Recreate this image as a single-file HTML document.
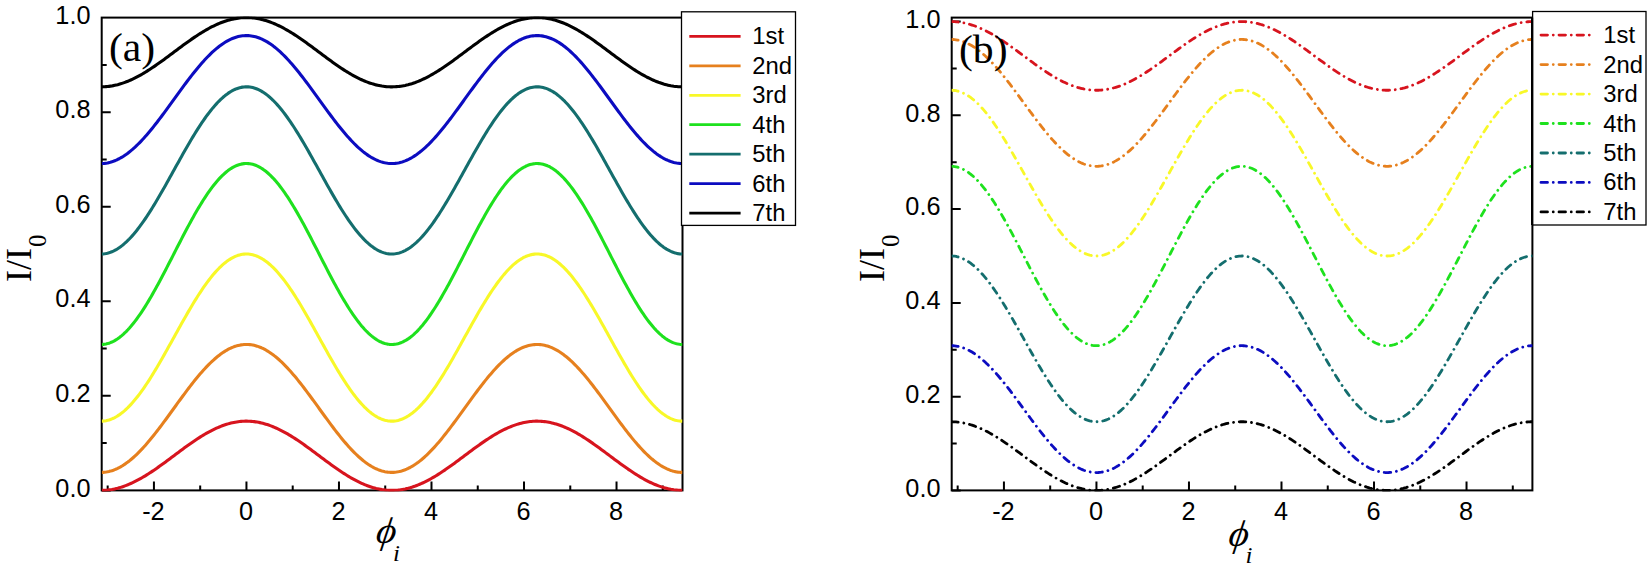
<!DOCTYPE html>
<html><head><meta charset="utf-8"><title>Figure</title>
<style>html,body{margin:0;padding:0;background:#fff}svg{display:block}</style></head>
<body>
<svg width="1650" height="569" viewBox="0 0 1650 569">
<rect width="1650" height="569" fill="#fff"/>
<defs><clipPath id="clipa"><rect x="101.7" y="16.6" width="580.8" height="474.99999999999994"/></clipPath></defs>
<rect x="101.7" y="17.6" width="580.8" height="472.79999999999995" fill="none" stroke="#000" stroke-width="2.0"/>
<path d="M107.67 490.4v-5 M153.93 490.4v-9 M200.19 490.4v-5 M246.45 490.4v-9 M292.71 490.4v-5 M338.97 490.4v-9 M385.23 490.4v-5 M431.49 490.4v-9 M477.75 490.4v-5 M524.01 490.4v-9 M570.27 490.4v-5 M616.53 490.4v-9 M662.79 490.4v-5 M101.7 490.40h9 M101.7 443.12h5 M101.7 395.84h9 M101.7 348.56h5 M101.7 301.28h9 M101.7 254.00h5 M101.7 206.72h9 M101.7 159.44h5 M101.7 112.16h9 M101.7 64.88h5" stroke="#000" stroke-width="2" fill="none"/>
<g clip-path="url(#clipa)" fill="none" stroke-width="3.1" stroke-linejoin="round">
<polyline stroke="#d7141e" points="101.70,490.40 103.15,490.37 104.60,490.30 106.06,490.20 107.51,490.07 108.96,489.90 110.41,489.70 111.86,489.47 113.32,489.20 114.77,488.90 116.22,488.57 117.67,488.21 119.12,487.81 120.58,487.38 122.03,486.92 123.48,486.43 124.93,485.91 126.38,485.36 127.84,484.79 129.29,484.18 130.74,483.54 132.19,482.88 133.64,482.19 135.10,481.47 136.55,480.73 138.00,479.97 139.45,479.18 140.90,478.37 142.36,477.53 143.81,476.68 145.26,475.80 146.71,474.90 148.16,473.99 149.62,473.06 151.07,472.11 152.52,471.14 153.97,470.16 155.42,469.16 156.88,468.15 158.33,467.13 159.78,466.10 161.23,465.06 162.68,464.01 164.14,462.95 165.59,461.88 167.04,460.81 168.49,459.73 169.94,458.65 171.40,457.57 172.85,456.48 174.30,455.39 175.75,454.31 177.20,453.22 178.66,452.14 180.11,451.06 181.56,449.99 183.01,448.92 184.46,447.86 185.92,446.81 187.37,445.76 188.82,444.73 190.27,443.70 191.72,442.69 193.18,441.69 194.63,440.70 196.08,439.73 197.53,438.78 198.98,437.84 200.44,436.92 201.89,436.02 203.34,435.14 204.79,434.27 206.24,433.43 207.70,432.61 209.15,431.82 210.60,431.05 212.05,430.30 213.50,429.58 214.96,428.88 216.41,428.21 217.86,427.56 219.31,426.95 220.76,426.36 222.22,425.80 223.67,425.27 225.12,424.78 226.57,424.31 228.02,423.87 229.48,423.46 230.93,423.09 232.38,422.75 233.83,422.44 235.28,422.16 236.74,421.92 238.19,421.71 239.64,421.53 241.09,421.39 242.54,421.28 244.00,421.21 245.45,421.17 246.90,421.16 248.35,421.19 249.80,421.25 251.26,421.35 252.71,421.48 254.16,421.64 255.61,421.84 257.06,422.07 258.52,422.33 259.97,422.63 261.42,422.96 262.87,423.32 264.32,423.71 265.78,424.14 267.23,424.59 268.68,425.08 270.13,425.60 271.58,426.15 273.04,426.72 274.49,427.33 275.94,427.96 277.39,428.62 278.84,429.31 280.30,430.02 281.75,430.76 283.20,431.52 284.65,432.31 286.10,433.12 287.56,433.95 289.01,434.81 290.46,435.68 291.91,436.58 293.36,437.49 294.82,438.42 296.27,439.37 297.72,440.33 299.17,441.31 300.62,442.31 302.08,443.31 303.53,444.33 304.98,445.37 306.43,446.41 307.88,447.46 309.34,448.52 310.79,449.58 312.24,450.65 313.69,451.73 315.14,452.81 316.60,453.90 318.05,454.98 319.50,456.07 320.95,457.15 322.40,458.24 323.86,459.32 325.31,460.40 326.76,461.48 328.21,462.54 329.66,463.61 331.12,464.66 332.57,465.71 334.02,466.74 335.47,467.77 336.92,468.78 338.38,469.78 339.83,470.77 341.28,471.74 342.73,472.70 344.18,473.64 345.64,474.56 347.09,475.46 348.54,476.35 349.99,477.21 351.44,478.05 352.90,478.87 354.35,479.67 355.80,480.45 357.25,481.20 358.70,481.92 360.16,482.62 361.61,483.29 363.06,483.94 364.51,484.56 365.96,485.15 367.42,485.71 368.87,486.24 370.32,486.74 371.77,487.21 373.22,487.65 374.68,488.06 376.13,488.44 377.58,488.78 379.03,489.09 380.48,489.37 381.94,489.62 383.39,489.83 384.84,490.01 386.29,490.16 387.74,490.27 389.20,490.35 390.65,490.39 392.10,490.40 393.55,490.37 395.00,490.32 396.46,490.22 397.91,490.10 399.36,489.94 400.81,489.74 402.26,489.51 403.72,489.25 405.17,488.96 406.62,488.63 408.07,488.28 409.52,487.88 410.98,487.46 412.43,487.01 413.88,486.52 415.33,486.01 416.78,485.46 418.24,484.89 419.69,484.29 421.14,483.66 422.59,483.00 424.04,482.32 425.50,481.60 426.95,480.87 428.40,480.11 429.85,479.32 431.30,478.51 432.76,477.68 434.21,476.83 435.66,475.96 437.11,475.07 438.56,474.15 440.02,473.22 441.47,472.28 442.92,471.31 444.37,470.34 445.82,469.34 447.28,468.34 448.73,467.32 450.18,466.29 451.63,465.25 453.08,464.20 454.54,463.14 455.99,462.07 457.44,461.00 458.89,459.93 460.34,458.85 461.80,457.76 463.25,456.68 464.70,455.59 466.15,454.50 467.60,453.42 469.06,452.34 470.51,451.26 471.96,450.18 473.41,449.11 474.86,448.05 476.32,446.99 477.77,445.95 479.22,444.91 480.67,443.88 482.12,442.87 483.58,441.87 485.03,440.88 486.48,439.91 487.93,438.95 489.38,438.01 490.84,437.08 492.29,436.18 493.74,435.29 495.19,434.43 496.64,433.58 498.10,432.76 499.55,431.96 501.00,431.18 502.45,430.43 503.90,429.70 505.36,429.00 506.81,428.33 508.26,427.68 509.71,427.06 511.16,426.46 512.62,425.90 514.07,425.37 515.52,424.86 516.97,424.39 518.42,423.95 519.88,423.53 521.33,423.16 522.78,422.81 524.23,422.49 525.68,422.21 527.14,421.96 528.59,421.75 530.04,421.56 531.49,421.42 532.94,421.30 534.40,421.22 535.85,421.17 537.30,421.16 538.75,421.18 540.20,421.24 541.66,421.33 543.11,421.45 544.56,421.61 546.01,421.80 547.46,422.02 548.92,422.28 550.37,422.57 551.82,422.90 553.27,423.25 554.72,423.64 556.18,424.06 557.63,424.51 559.08,424.99 560.53,425.50 561.98,426.05 563.44,426.62 564.89,427.22 566.34,427.84 567.79,428.50 569.24,429.18 570.70,429.89 572.15,430.62 573.60,431.38 575.05,432.17 576.50,432.97 577.96,433.80 579.41,434.65 580.86,435.52 582.31,436.41 583.76,437.32 585.22,438.25 586.67,439.20 588.12,440.16 589.57,441.14 591.02,442.13 592.48,443.13 593.93,444.15 595.38,445.18 596.83,446.22 598.28,447.27 599.74,448.33 601.19,449.39 602.64,450.46 604.09,451.54 605.54,452.62 607.00,453.70 608.45,454.79 609.90,455.87 611.35,456.96 612.80,458.05 614.26,459.13 615.71,460.21 617.16,461.28 618.61,462.35 620.06,463.42 621.52,464.47 622.97,465.52 624.42,466.56 625.87,467.58 627.32,468.60 628.78,469.60 630.23,470.59 631.68,471.57 633.13,472.53 634.58,473.47 636.04,474.39 637.49,475.30 638.94,476.19 640.39,477.06 641.84,477.90 643.30,478.73 644.75,479.53 646.20,480.31 647.65,481.06 649.10,481.79 650.56,482.50 652.01,483.18 653.46,483.83 654.91,484.45 656.36,485.04 657.82,485.61 659.27,486.15 660.72,486.65 662.17,487.13 663.62,487.58 665.08,487.99 666.53,488.37 667.98,488.72 669.43,489.04 670.88,489.33 672.34,489.58 673.79,489.80 675.24,489.98 676.69,490.13 678.14,490.25 679.60,490.33 681.05,490.38 682.50,490.40"/>
<polyline stroke="#e6801e" points="101.70,472.40 103.15,472.34 104.60,472.22 106.06,472.04 107.51,471.80 108.96,471.49 110.41,471.12 111.86,470.69 113.32,470.19 114.77,469.64 116.22,469.03 117.67,468.35 119.12,467.62 120.58,466.83 122.03,465.98 123.48,465.08 124.93,464.12 126.38,463.10 127.84,462.03 129.29,460.91 130.74,459.73 132.19,458.51 133.64,457.24 135.10,455.91 136.55,454.54 138.00,453.13 139.45,451.67 140.90,450.17 142.36,448.63 143.81,447.05 145.26,445.43 146.71,443.77 148.16,442.08 149.62,440.36 151.07,438.60 152.52,436.82 153.97,435.00 155.42,433.16 156.88,431.30 158.33,429.41 159.78,427.51 161.23,425.58 162.68,423.64 164.14,421.68 165.59,419.71 167.04,417.73 168.49,415.74 169.94,413.74 171.40,411.74 172.85,409.73 174.30,407.72 175.75,405.72 177.20,403.71 178.66,401.71 180.11,399.72 181.56,397.73 183.01,395.76 184.46,393.80 185.92,391.85 187.37,389.92 188.82,388.01 190.27,386.12 191.72,384.25 193.18,382.40 194.63,380.58 196.08,378.79 197.53,377.02 198.98,375.29 200.44,373.59 201.89,371.92 203.34,370.29 204.79,368.70 206.24,367.14 207.70,365.63 209.15,364.16 210.60,362.73 212.05,361.35 213.50,360.02 214.96,358.73 216.41,357.49 217.86,356.30 219.31,355.16 220.76,354.08 222.22,353.05 223.67,352.07 225.12,351.15 226.57,350.28 228.02,349.47 229.48,348.72 230.93,348.03 232.38,347.40 233.83,346.83 235.28,346.32 236.74,345.87 238.19,345.48 239.64,345.16 241.09,344.89 242.54,344.69 244.00,344.56 245.45,344.48 246.90,344.47 248.35,344.52 249.80,344.63 251.26,344.81 252.71,345.05 254.16,345.35 255.61,345.72 257.06,346.14 258.52,346.63 259.97,347.18 261.42,347.79 262.87,348.45 264.32,349.18 265.78,349.97 267.23,350.81 268.68,351.71 270.13,352.67 271.58,353.68 273.04,354.74 274.49,355.86 275.94,357.03 277.39,358.25 278.84,359.52 280.30,360.84 281.75,362.20 283.20,363.61 284.65,365.07 286.10,366.56 287.56,368.10 289.01,369.68 290.46,371.30 291.91,372.95 293.36,374.64 294.82,376.36 296.27,378.11 297.72,379.89 299.17,381.70 300.62,383.54 302.08,385.40 303.53,387.29 304.98,389.19 306.43,391.12 307.88,393.06 309.34,395.01 310.79,396.98 312.24,398.96 313.69,400.95 315.14,402.95 316.60,404.95 318.05,406.96 319.50,408.97 320.95,410.98 322.40,412.98 323.86,414.98 325.31,416.97 326.76,418.96 328.21,420.93 329.66,422.90 331.12,424.85 332.57,426.78 334.02,428.69 335.47,430.59 336.92,432.46 338.38,434.31 339.83,436.13 341.28,437.93 342.73,439.69 344.18,441.43 345.64,443.13 347.09,444.80 348.54,446.44 349.99,448.03 351.44,449.59 352.90,451.11 354.35,452.58 355.80,454.01 357.25,455.40 358.70,456.74 360.16,458.03 361.61,459.27 363.06,460.47 364.51,461.61 365.96,462.70 367.42,463.74 368.87,464.72 370.32,465.64 371.77,466.51 373.22,467.33 374.68,468.08 376.13,468.78 377.58,469.41 379.03,469.99 380.48,470.51 381.94,470.96 383.39,471.36 384.84,471.69 386.29,471.96 387.74,472.16 389.20,472.31 390.65,472.39 392.10,472.40 393.55,472.36 395.00,472.25 396.46,472.08 397.91,471.84 399.36,471.55 400.81,471.19 402.26,470.77 403.72,470.29 405.17,469.74 406.62,469.14 408.07,468.48 409.52,467.76 410.98,466.98 412.43,466.14 413.88,465.24 415.33,464.29 416.78,463.29 418.24,462.23 419.69,461.11 421.14,459.95 422.59,458.73 424.04,457.47 425.50,456.15 426.95,454.79 428.40,453.39 429.85,451.94 431.30,450.44 432.76,448.91 434.21,447.33 435.66,445.72 437.11,444.07 438.56,442.39 440.02,440.67 441.47,438.92 442.92,437.14 444.37,435.33 445.82,433.50 447.28,431.64 448.73,429.75 450.18,427.85 451.63,425.93 453.08,423.99 454.54,422.03 455.99,420.07 457.44,418.09 458.89,416.10 460.34,414.10 461.80,412.10 463.25,410.09 464.70,408.08 466.15,406.08 467.60,404.07 469.06,402.07 470.51,400.08 471.96,398.09 473.41,396.11 474.86,394.15 476.32,392.20 477.77,390.27 479.22,388.35 480.67,386.45 482.12,384.58 483.58,382.73 485.03,380.90 486.48,379.10 487.93,377.34 489.38,375.60 490.84,373.89 492.29,372.22 493.74,370.58 495.19,368.98 496.64,367.42 498.10,365.90 499.55,364.42 501.00,362.99 502.45,361.60 503.90,360.25 505.36,358.95 506.81,357.71 508.26,356.51 509.71,355.36 511.16,354.27 512.62,353.23 514.07,352.24 515.52,351.31 516.97,350.43 518.42,349.61 519.88,348.85 521.33,348.15 522.78,347.51 524.23,346.93 525.68,346.41 527.14,345.95 528.59,345.55 530.04,345.21 531.49,344.94 532.94,344.73 534.40,344.58 535.85,344.49 537.30,344.47 538.75,344.51 540.20,344.61 541.66,344.77 543.11,345.00 544.56,345.29 546.01,345.65 547.46,346.06 548.92,346.54 550.37,347.08 551.82,347.67 553.27,348.33 554.72,349.05 556.18,349.82 557.63,350.66 559.08,351.55 560.53,352.49 561.98,353.49 563.44,354.55 564.89,355.66 566.34,356.82 567.79,358.03 569.24,359.29 570.70,360.60 572.15,361.95 573.60,363.36 575.05,364.80 576.50,366.29 577.96,367.82 579.41,369.39 580.86,371.00 582.31,372.65 583.76,374.33 585.22,376.05 586.67,377.79 588.12,379.57 589.57,381.38 591.02,383.21 592.48,385.07 593.93,386.95 595.38,388.85 596.83,390.77 598.28,392.71 599.74,394.66 601.19,396.63 602.64,398.61 604.09,400.60 605.54,402.59 607.00,404.59 608.45,406.60 609.90,408.61 611.35,410.62 612.80,412.62 614.26,414.62 615.71,416.62 617.16,418.60 618.61,420.58 620.06,422.55 621.52,424.50 622.97,426.43 624.42,428.35 625.87,430.25 627.32,432.12 628.78,433.98 630.23,435.81 631.68,437.61 633.13,439.38 634.58,441.12 636.04,442.83 637.49,444.51 638.94,446.15 640.39,447.75 641.84,449.31 643.30,450.84 644.75,452.32 646.20,453.76 647.65,455.15 649.10,456.50 650.56,457.80 652.01,459.06 653.46,460.26 654.91,461.41 656.36,462.51 657.82,463.55 659.27,464.55 660.72,465.48 662.17,466.36 663.62,467.19 665.08,467.95 666.53,468.66 667.98,469.31 669.43,469.89 670.88,470.42 672.34,470.89 673.79,471.29 675.24,471.63 676.69,471.91 678.14,472.13 679.60,472.28 681.05,472.38 682.50,472.41"/>
<polyline stroke="#f8f828" points="101.70,421.15 103.15,421.08 104.60,420.92 106.06,420.68 107.51,420.36 108.96,419.96 110.41,419.48 111.86,418.92 113.32,418.27 114.77,417.55 116.22,416.75 117.67,415.87 119.12,414.91 120.58,413.88 122.03,412.77 123.48,411.59 124.93,410.33 126.38,409.00 127.84,407.60 129.29,406.14 130.74,404.60 132.19,403.00 133.64,401.34 135.10,399.61 136.55,397.82 138.00,395.98 139.45,394.07 140.90,392.11 142.36,390.10 143.81,388.03 145.26,385.91 146.71,383.75 148.16,381.54 149.62,379.29 151.07,376.99 152.52,374.66 153.97,372.29 155.42,369.89 156.88,367.45 158.33,364.99 159.78,362.50 161.23,359.98 162.68,357.44 164.14,354.89 165.59,352.31 167.04,349.72 168.49,347.12 169.94,344.51 171.40,341.89 172.85,339.27 174.30,336.65 175.75,334.03 177.20,331.41 178.66,328.80 180.11,326.19 181.56,323.60 183.01,321.02 184.46,318.46 185.92,315.91 187.37,313.39 188.82,310.89 190.27,308.42 191.72,305.97 193.18,303.56 194.63,301.18 196.08,298.84 197.53,296.53 198.98,294.27 200.44,292.05 201.89,289.87 203.34,287.74 204.79,285.66 206.24,283.63 207.70,281.65 209.15,279.73 210.60,277.87 212.05,276.06 213.50,274.32 214.96,272.63 216.41,271.01 217.86,269.46 219.31,267.97 220.76,266.56 222.22,265.21 223.67,263.93 225.12,262.73 226.57,261.60 228.02,260.54 229.48,259.56 230.93,258.66 232.38,257.84 233.83,257.09 235.28,256.42 236.74,255.84 238.19,255.33 239.64,254.90 241.09,254.56 242.54,254.30 244.00,254.12 245.45,254.02 246.90,254.00 248.35,254.07 249.80,254.22 251.26,254.45 252.71,254.76 254.16,255.16 255.61,255.63 257.06,256.19 258.52,256.83 259.97,257.54 261.42,258.34 262.87,259.21 264.32,260.16 265.78,261.19 267.23,262.29 268.68,263.47 270.13,264.72 271.58,266.04 273.04,267.43 274.49,268.89 275.94,270.42 277.39,272.01 278.84,273.67 280.30,275.39 281.75,277.17 283.20,279.02 284.65,280.92 286.10,282.87 287.56,284.88 289.01,286.94 290.46,289.06 291.91,291.22 293.36,293.42 294.82,295.67 296.27,297.96 297.72,300.29 299.17,302.65 300.62,305.05 302.08,307.49 303.53,309.95 304.98,312.44 306.43,314.95 307.88,317.49 309.34,320.04 310.79,322.62 312.24,325.20 313.69,327.80 315.14,330.41 316.60,333.03 318.05,335.65 319.50,338.28 320.95,340.90 322.40,343.52 323.86,346.13 325.31,348.74 326.76,351.33 328.21,353.91 329.66,356.47 331.12,359.02 332.57,361.54 334.02,364.05 335.47,366.52 336.92,368.97 338.38,371.38 339.83,373.77 341.28,376.11 342.73,378.42 344.18,380.69 345.64,382.91 347.09,385.10 348.54,387.23 349.99,389.32 351.44,391.35 352.90,393.33 354.35,395.26 355.80,397.13 357.25,398.94 358.70,400.69 360.16,402.38 361.61,404.00 363.06,405.56 364.51,407.06 365.96,408.48 367.42,409.83 368.87,411.12 370.32,412.33 371.77,413.46 373.22,414.53 374.68,415.51 376.13,416.42 377.58,417.25 379.03,418.01 380.48,418.68 381.94,419.27 383.39,419.79 384.84,420.22 386.29,420.57 387.74,420.84 389.20,421.03 390.65,421.14 392.10,421.16 393.55,421.10 395.00,420.96 396.46,420.73 397.91,420.43 399.36,420.04 400.81,419.57 402.26,419.02 403.72,418.39 405.17,417.68 406.62,416.90 408.07,416.03 409.52,415.09 410.98,414.07 412.43,412.97 413.88,411.80 415.33,410.56 416.78,409.25 418.24,407.86 419.69,406.41 421.14,404.88 422.59,403.30 424.04,401.64 425.50,399.93 426.95,398.15 428.40,396.31 429.85,394.42 431.30,392.47 432.76,390.46 434.21,388.40 435.66,386.30 437.11,384.14 438.56,381.94 440.02,379.69 441.47,377.41 442.92,375.08 444.37,372.72 445.82,370.32 447.28,367.89 448.73,365.43 450.18,362.95 451.63,360.44 453.08,357.90 454.54,355.35 455.99,352.77 457.44,350.19 458.89,347.59 460.34,344.98 461.80,342.36 463.25,339.74 464.70,337.12 466.15,334.50 467.60,331.88 469.06,329.26 470.51,326.66 471.96,324.06 473.41,321.48 474.86,318.91 476.32,316.37 477.77,313.84 479.22,311.34 480.67,308.86 482.12,306.41 483.58,303.99 485.03,301.61 486.48,299.26 487.93,296.94 489.38,294.67 490.84,292.44 492.29,290.26 493.74,288.12 495.19,286.03 496.64,283.99 498.10,282.00 499.55,280.07 501.00,278.20 502.45,276.38 503.90,274.62 505.36,272.93 506.81,271.30 508.26,269.73 509.71,268.24 511.16,266.81 512.62,265.44 514.07,264.16 515.52,262.94 516.97,261.80 518.42,260.73 519.88,259.73 521.33,258.82 522.78,257.98 524.23,257.22 525.68,256.54 527.14,255.94 528.59,255.41 530.04,254.97 531.49,254.62 532.94,254.34 534.40,254.14 535.85,254.03 537.30,254.00 538.75,254.05 540.20,254.19 541.66,254.40 543.11,254.70 544.56,255.08 546.01,255.54 547.46,256.08 548.92,256.71 550.37,257.41 551.82,258.19 553.27,259.05 554.72,259.99 556.18,261.00 557.63,262.09 559.08,263.25 560.53,264.49 561.98,265.79 563.44,267.17 564.89,268.62 566.34,270.14 567.79,271.72 569.24,273.37 570.70,275.08 572.15,276.85 573.60,278.68 575.05,280.57 576.50,282.52 577.96,284.52 579.41,286.57 580.86,288.67 582.31,290.82 583.76,293.02 585.22,295.26 586.67,297.55 588.12,299.87 589.57,302.23 591.02,304.62 592.48,307.05 593.93,309.50 595.38,311.99 596.83,314.50 598.28,317.03 599.74,319.58 601.19,322.15 602.64,324.74 604.09,327.34 605.54,329.95 607.00,332.56 608.45,335.18 609.90,337.81 611.35,340.43 612.80,343.05 614.26,345.66 615.71,348.27 617.16,350.87 618.61,353.45 620.06,356.02 621.52,358.57 622.97,361.09 624.42,363.60 625.87,366.08 627.32,368.53 628.78,370.95 630.23,373.34 631.68,375.69 633.13,378.01 634.58,380.29 636.04,382.52 637.49,384.71 638.94,386.85 640.39,388.95 641.84,390.99 643.30,392.98 644.75,394.92 646.20,396.80 647.65,398.62 649.10,400.38 650.56,402.08 652.01,403.72 653.46,405.29 654.91,406.79 656.36,408.23 657.82,409.60 659.27,410.89 660.72,412.12 662.17,413.27 663.62,414.34 665.08,415.34 666.53,416.26 667.98,417.11 669.43,417.88 670.88,418.57 672.34,419.17 673.79,419.70 675.24,420.15 676.69,420.52 678.14,420.80 679.60,421.00 681.05,421.12 682.50,421.16"/>
<polyline stroke="#1ee11e" points="101.70,344.46 103.15,344.38 104.60,344.21 106.06,343.95 107.51,343.61 108.96,343.17 110.41,342.65 111.86,342.04 113.32,341.34 114.77,340.56 116.22,339.69 117.67,338.74 119.12,337.70 120.58,336.58 122.03,335.38 123.48,334.10 124.93,332.74 126.38,331.31 127.84,329.79 129.29,328.21 130.74,326.55 132.19,324.81 133.64,323.01 135.10,321.14 136.55,319.21 138.00,317.21 139.45,315.15 140.90,313.02 142.36,310.84 143.81,308.61 145.26,306.32 146.71,303.97 148.16,301.58 149.62,299.14 151.07,296.66 152.52,294.14 153.97,291.57 155.42,288.97 156.88,286.34 158.33,283.67 159.78,280.97 161.23,278.25 162.68,275.50 164.14,272.73 165.59,269.95 167.04,267.14 168.49,264.33 169.94,261.50 171.40,258.67 172.85,255.83 174.30,252.99 175.75,250.15 177.20,247.32 178.66,244.49 180.11,241.67 181.56,238.87 183.01,236.07 184.46,233.30 185.92,230.55 187.37,227.82 188.82,225.11 190.27,222.44 191.72,219.79 193.18,217.18 194.63,214.60 196.08,212.07 197.53,209.57 198.98,207.12 200.44,204.72 201.89,202.36 203.34,200.05 204.79,197.80 206.24,195.60 207.70,193.47 209.15,191.39 210.60,189.37 212.05,187.41 213.50,185.52 214.96,183.70 216.41,181.95 217.86,180.27 219.31,178.66 220.76,177.12 222.22,175.67 223.67,174.28 225.12,172.98 226.57,171.76 228.02,170.62 229.48,169.56 230.93,168.58 232.38,167.69 233.83,166.88 235.28,166.16 236.74,165.52 238.19,164.97 239.64,164.51 241.09,164.14 242.54,163.86 244.00,163.66 245.45,163.55 246.90,163.54 248.35,163.61 249.80,163.77 251.26,164.02 252.71,164.36 254.16,164.79 255.61,165.30 257.06,165.90 258.52,166.59 259.97,167.37 261.42,168.23 262.87,169.17 264.32,170.20 265.78,171.31 267.23,172.51 268.68,173.78 270.13,175.13 271.58,176.56 273.04,178.07 274.49,179.65 275.94,181.30 277.39,183.03 278.84,184.82 280.30,186.69 281.75,188.62 283.20,190.61 284.65,192.67 286.10,194.78 287.56,196.96 289.01,199.19 290.46,201.48 291.91,203.81 293.36,206.20 294.82,208.64 296.27,211.11 297.72,213.64 299.17,216.20 300.62,218.79 302.08,221.43 303.53,224.09 304.98,226.79 306.43,229.51 307.88,232.25 309.34,235.02 310.79,237.80 312.24,240.60 313.69,243.42 315.14,246.24 316.60,249.08 318.05,251.91 319.50,254.75 320.95,257.59 322.40,260.43 323.86,263.26 325.31,266.07 326.76,268.88 328.21,271.68 329.66,274.45 331.12,277.21 332.57,279.94 334.02,282.65 335.47,285.33 336.92,287.97 338.38,290.59 339.83,293.17 341.28,295.71 342.73,298.21 344.18,300.66 345.64,303.07 347.09,305.43 348.54,307.74 349.99,310.00 351.44,312.20 352.90,314.35 354.35,316.43 355.80,318.45 357.25,320.42 358.70,322.31 360.16,324.14 361.61,325.90 363.06,327.58 364.51,329.20 365.96,330.74 367.42,332.21 368.87,333.60 370.32,334.91 371.77,336.14 373.22,337.29 374.68,338.35 376.13,339.34 377.58,340.24 379.03,341.05 380.48,341.78 381.94,342.43 383.39,342.98 384.84,343.45 386.29,343.83 387.74,344.12 389.20,344.33 390.65,344.44 392.10,344.46 393.55,344.40 395.00,344.25 396.46,344.00 397.91,343.67 399.36,343.25 400.81,342.75 402.26,342.15 403.72,341.47 405.17,340.70 406.62,339.85 408.07,338.91 409.52,337.89 410.98,336.79 412.43,335.60 413.88,334.34 415.33,332.99 416.78,331.57 418.24,330.07 419.69,328.50 421.14,326.85 422.59,325.13 424.04,323.34 425.50,321.48 426.95,319.56 428.40,317.57 429.85,315.52 431.30,313.41 432.76,311.24 434.21,309.01 435.66,306.73 437.11,304.40 438.56,302.01 440.02,299.58 441.47,297.11 442.92,294.59 444.37,292.03 445.82,289.44 447.28,286.81 448.73,284.15 450.18,281.46 451.63,278.74 453.08,276.00 454.54,273.23 455.99,270.45 457.44,267.65 458.89,264.83 460.34,262.01 461.80,259.18 463.25,256.34 464.70,253.50 466.15,250.66 467.60,247.83 469.06,245.00 470.51,242.18 471.96,239.37 473.41,236.57 474.86,233.80 476.32,231.04 477.77,228.30 479.22,225.59 480.67,222.91 482.12,220.26 483.58,217.64 485.03,215.06 486.48,212.52 487.93,210.02 489.38,207.56 490.84,205.14 492.29,202.78 493.74,200.46 495.19,198.20 496.64,195.99 498.10,193.84 499.55,191.75 501.00,189.72 502.45,187.76 503.90,185.86 505.36,184.02 506.81,182.26 508.26,180.56 509.71,178.94 511.16,177.39 512.62,175.92 514.07,174.53 515.52,173.21 516.97,171.97 518.42,170.81 519.88,169.74 521.33,168.75 522.78,167.84 524.23,167.02 525.68,166.28 527.14,165.63 528.59,165.06 530.04,164.59 531.49,164.20 532.94,163.90 534.40,163.69 535.85,163.57 537.30,163.53 538.75,163.59 540.20,163.74 541.66,163.97 543.11,164.29 544.56,164.70 546.01,165.20 547.46,165.79 548.92,166.46 550.37,167.22 551.82,168.07 553.27,169.00 554.72,170.01 556.18,171.11 557.63,172.29 559.08,173.55 560.53,174.88 561.98,176.30 563.44,177.79 564.89,179.36 566.34,181.00 567.79,182.71 569.24,184.50 570.70,186.35 572.15,188.27 573.60,190.25 575.05,192.29 576.50,194.40 577.96,196.57 579.41,198.79 580.86,201.06 582.31,203.39 583.76,205.77 585.22,208.20 586.67,210.67 588.12,213.18 589.57,215.73 591.02,218.33 592.48,220.95 593.93,223.61 595.38,226.30 596.83,229.02 598.28,231.76 599.74,234.52 601.19,237.30 602.64,240.10 604.09,242.91 605.54,245.74 607.00,248.57 608.45,251.40 609.90,254.24 611.35,257.08 612.80,259.92 614.26,262.75 615.71,265.57 617.16,268.38 618.61,271.18 620.06,273.96 621.52,276.71 622.97,279.45 624.42,282.16 625.87,284.85 627.32,287.50 628.78,290.12 630.23,292.71 631.68,295.25 633.13,297.76 634.58,300.22 636.04,302.64 637.49,305.01 638.94,307.33 640.39,309.60 641.84,311.81 643.30,313.97 644.75,316.06 646.20,318.10 647.65,320.07 649.10,321.98 650.56,323.82 652.01,325.59 653.46,327.29 654.91,328.92 656.36,330.47 657.82,331.95 659.27,333.35 660.72,334.68 662.17,335.92 663.62,337.09 665.08,338.17 666.53,339.17 667.98,340.08 669.43,340.91 670.88,341.66 672.34,342.32 673.79,342.89 675.24,343.37 676.69,343.77 678.14,344.08 679.60,344.30 681.05,344.43 682.50,344.47"/>
<polyline stroke="#146e6e" points="101.70,253.99 103.15,253.92 104.60,253.76 106.06,253.52 107.51,253.20 108.96,252.80 110.41,252.32 111.86,251.76 113.32,251.11 114.77,250.39 116.22,249.59 117.67,248.71 119.12,247.75 120.58,246.72 122.03,245.61 123.48,244.43 124.93,243.17 126.38,241.84 127.84,240.44 129.29,238.98 130.74,237.44 132.19,235.84 133.64,234.18 135.10,232.45 136.55,230.66 138.00,228.82 139.45,226.91 140.90,224.95 142.36,222.94 143.81,220.87 145.26,218.75 146.71,216.59 148.16,214.38 149.62,212.13 151.07,209.83 152.52,207.50 153.97,205.13 155.42,202.73 156.88,200.29 158.33,197.83 159.78,195.34 161.23,192.82 162.68,190.28 164.14,187.73 165.59,185.15 167.04,182.56 168.49,179.96 169.94,177.35 171.40,174.73 172.85,172.11 174.30,169.49 175.75,166.87 177.20,164.25 178.66,161.64 180.11,159.03 181.56,156.44 183.01,153.86 184.46,151.30 185.92,148.75 187.37,146.23 188.82,143.73 190.27,141.26 191.72,138.81 193.18,136.40 194.63,134.02 196.08,131.68 197.53,129.37 198.98,127.11 200.44,124.89 201.89,122.71 203.34,120.58 204.79,118.50 206.24,116.47 207.70,114.49 209.15,112.57 210.60,110.71 212.05,108.90 213.50,107.16 214.96,105.47 216.41,103.85 217.86,102.30 219.31,100.81 220.76,99.40 222.22,98.05 223.67,96.77 225.12,95.57 226.57,94.44 228.02,93.38 229.48,92.40 230.93,91.50 232.38,90.68 233.83,89.93 235.28,89.26 236.74,88.68 238.19,88.17 239.64,87.74 241.09,87.40 242.54,87.14 244.00,86.96 245.45,86.86 246.90,86.84 248.35,86.91 249.80,87.06 251.26,87.29 252.71,87.60 254.16,88.00 255.61,88.47 257.06,89.03 258.52,89.67 259.97,90.38 261.42,91.18 262.87,92.05 264.32,93.00 265.78,94.03 267.23,95.13 268.68,96.31 270.13,97.55 271.58,98.88 273.04,100.27 274.49,101.73 275.94,103.26 277.39,104.85 278.84,106.51 280.30,108.23 281.75,110.01 283.20,111.86 284.65,113.76 286.10,115.71 287.56,117.72 289.01,119.78 290.46,121.90 291.91,124.06 293.36,126.26 294.82,128.51 296.27,130.80 297.72,133.13 299.17,135.49 300.62,137.89 302.08,140.33 303.53,142.79 304.98,145.28 306.43,147.79 307.88,150.33 309.34,152.88 310.79,155.46 312.24,158.04 313.69,160.64 315.14,163.25 316.60,165.87 318.05,168.49 319.50,171.12 320.95,173.74 322.40,176.36 323.86,178.97 325.31,181.58 326.76,184.17 328.21,186.75 329.66,189.31 331.12,191.86 332.57,194.38 334.02,196.89 335.47,199.36 336.92,201.81 338.38,204.22 339.83,206.61 341.28,208.95 342.73,211.26 344.18,213.53 345.64,215.75 347.09,217.94 348.54,220.07 349.99,222.16 351.44,224.19 352.90,226.17 354.35,228.10 355.80,229.97 357.25,231.78 358.70,233.53 360.16,235.22 361.61,236.84 363.06,238.40 364.51,239.90 365.96,241.32 367.42,242.67 368.87,243.96 370.32,245.17 371.77,246.30 373.22,247.37 374.68,248.35 376.13,249.26 377.58,250.09 379.03,250.85 380.48,251.52 381.94,252.11 383.39,252.63 384.84,253.06 386.29,253.41 387.74,253.68 389.20,253.87 390.65,253.97 392.10,254.00 393.55,253.94 395.00,253.80 396.46,253.57 397.91,253.27 399.36,252.88 400.81,252.41 402.26,251.86 403.72,251.23 405.17,250.52 406.62,249.74 408.07,248.87 409.52,247.93 410.98,246.91 412.43,245.81 413.88,244.64 415.33,243.40 416.78,242.09 418.24,240.70 419.69,239.25 421.14,237.72 422.59,236.14 424.04,234.48 425.50,232.77 426.95,230.99 428.40,229.15 429.85,227.26 431.30,225.31 432.76,223.30 434.21,221.24 435.66,219.14 437.11,216.98 438.56,214.78 440.02,212.53 441.47,210.25 442.92,207.92 444.37,205.56 445.82,203.16 447.28,200.73 448.73,198.27 450.18,195.79 451.63,193.28 453.08,190.74 454.54,188.19 455.99,185.61 457.44,183.03 458.89,180.43 460.34,177.82 461.80,175.20 463.25,172.58 464.70,169.96 466.15,167.34 467.60,164.72 469.06,162.10 470.51,159.50 471.96,156.90 473.41,154.32 474.86,151.75 476.32,149.21 477.77,146.68 479.22,144.18 480.67,141.70 482.12,139.25 483.58,136.83 485.03,134.45 486.48,132.10 487.93,129.78 489.38,127.51 490.84,125.28 492.29,123.10 493.74,120.96 495.19,118.87 496.64,116.83 498.10,114.84 499.55,112.91 501.00,111.04 502.45,109.22 503.90,107.46 505.36,105.77 506.81,104.14 508.26,102.57 509.71,101.08 511.16,99.65 512.62,98.28 514.07,97.00 515.52,95.78 516.97,94.64 518.42,93.57 519.88,92.57 521.33,91.66 522.78,90.82 524.23,90.06 525.68,89.38 527.14,88.78 528.59,88.25 530.04,87.81 531.49,87.46 532.94,87.18 534.40,86.98 535.85,86.87 537.30,86.84 538.75,86.89 540.20,87.03 541.66,87.24 543.11,87.54 544.56,87.92 546.01,88.38 547.46,88.92 548.92,89.55 550.37,90.25 551.82,91.03 553.27,91.89 554.72,92.83 556.18,93.84 557.63,94.93 559.08,96.09 560.53,97.33 561.98,98.63 563.44,100.01 564.89,101.46 566.34,102.98 567.79,104.56 569.24,106.21 570.70,107.92 572.15,109.69 573.60,111.52 575.05,113.41 576.50,115.36 577.96,117.36 579.41,119.41 580.86,121.51 582.31,123.66 583.76,125.86 585.22,128.10 586.67,130.39 588.12,132.71 589.57,135.07 591.02,137.46 592.48,139.89 593.93,142.34 595.38,144.83 596.83,147.34 598.28,149.87 599.74,152.42 601.19,154.99 602.64,157.58 604.09,160.18 605.54,162.79 607.00,165.40 608.45,168.02 609.90,170.65 611.35,173.27 612.80,175.89 614.26,178.50 615.71,181.11 617.16,183.71 618.61,186.29 620.06,188.86 621.52,191.41 622.97,193.93 624.42,196.44 625.87,198.92 627.32,201.37 628.78,203.79 630.23,206.18 631.68,208.53 633.13,210.85 634.58,213.13 636.04,215.36 637.49,217.55 638.94,219.69 640.39,221.79 641.84,223.83 643.30,225.82 644.75,227.76 646.20,229.64 647.65,231.46 649.10,233.22 650.56,234.92 652.01,236.56 653.46,238.13 654.91,239.63 656.36,241.07 657.82,242.44 659.27,243.73 660.72,244.96 662.17,246.11 663.62,247.18 665.08,248.18 666.53,249.10 667.98,249.95 669.43,250.72 670.88,251.41 672.34,252.01 673.79,252.54 675.24,252.99 676.69,253.36 678.14,253.64 679.60,253.84 681.05,253.96 682.50,254.00"/>
<polyline stroke="#0c0cc0" points="101.70,163.53 103.15,163.47 104.60,163.35 106.06,163.17 107.51,162.92 108.96,162.62 110.41,162.25 111.86,161.82 113.32,161.32 114.77,160.77 116.22,160.16 117.67,159.48 119.12,158.75 120.58,157.96 122.03,157.11 123.48,156.21 124.93,155.24 126.38,154.23 127.84,153.16 129.29,152.04 130.74,150.86 132.19,149.64 133.64,148.36 135.10,147.04 136.55,145.67 138.00,144.26 139.45,142.80 140.90,141.30 142.36,139.76 143.81,138.18 145.26,136.56 146.71,134.90 148.16,133.21 149.62,131.49 151.07,129.73 152.52,127.95 153.97,126.13 155.42,124.29 156.88,122.43 158.33,120.54 159.78,118.64 161.23,116.71 162.68,114.77 164.14,112.81 165.59,110.84 167.04,108.86 168.49,106.87 169.94,104.87 171.40,102.87 172.85,100.86 174.30,98.85 175.75,96.85 177.20,94.84 178.66,92.84 180.11,90.85 181.56,88.86 183.01,86.89 184.46,84.93 185.92,82.98 187.37,81.05 188.82,79.14 190.27,77.25 191.72,75.37 193.18,73.53 194.63,71.71 196.08,69.91 197.53,68.15 198.98,66.42 200.44,64.72 201.89,63.05 203.34,61.42 204.79,59.83 206.24,58.27 207.70,56.76 209.15,55.29 210.60,53.86 212.05,52.48 213.50,51.14 214.96,49.86 216.41,48.62 217.86,47.43 219.31,46.29 220.76,45.21 222.22,44.17 223.67,43.20 225.12,42.28 226.57,41.41 228.02,40.60 229.48,39.85 230.93,39.16 232.38,38.53 233.83,37.96 235.28,37.45 236.74,37.00 238.19,36.61 239.64,36.29 241.09,36.02 242.54,35.82 244.00,35.68 245.45,35.61 246.90,35.60 248.35,35.65 249.80,35.76 251.26,35.94 252.71,36.18 254.16,36.48 255.61,36.85 257.06,37.27 258.52,37.76 259.97,38.31 261.42,38.92 262.87,39.58 264.32,40.31 265.78,41.10 267.23,41.94 268.68,42.84 270.13,43.80 271.58,44.81 273.04,45.87 274.49,46.99 275.94,48.16 277.39,49.38 278.84,50.65 280.30,51.97 281.75,53.33 283.20,54.74 284.65,56.20 286.10,57.69 287.56,59.23 289.01,60.81 290.46,62.43 291.91,64.08 293.36,65.77 294.82,67.49 296.27,69.24 297.72,71.02 299.17,72.83 300.62,74.67 302.08,76.53 303.53,78.42 304.98,80.32 306.43,82.24 307.88,84.19 309.34,86.14 310.79,88.11 312.24,90.09 313.69,92.08 315.14,94.08 316.60,96.08 318.05,98.09 319.50,100.10 320.95,102.10 322.40,104.11 323.86,106.11 325.31,108.10 326.76,110.09 328.21,112.06 329.66,114.03 331.12,115.97 332.57,117.91 334.02,119.82 335.47,121.71 336.92,123.59 338.38,125.44 339.83,127.26 341.28,129.06 342.73,130.82 344.18,132.56 345.64,134.26 347.09,135.93 348.54,137.56 349.99,139.16 351.44,140.72 352.90,142.23 354.35,143.71 355.80,145.14 357.25,146.53 358.70,147.87 360.16,149.16 361.61,150.40 363.06,151.60 364.51,152.74 365.96,153.83 367.42,154.86 368.87,155.85 370.32,156.77 371.77,157.64 373.22,158.46 374.68,159.21 376.13,159.91 377.58,160.54 379.03,161.12 380.48,161.64 381.94,162.09 383.39,162.48 384.84,162.82 386.29,163.08 387.74,163.29 389.20,163.43 390.65,163.51 392.10,163.53 393.55,163.49 395.00,163.38 396.46,163.21 397.91,162.97 399.36,162.68 400.81,162.32 402.26,161.90 403.72,161.42 405.17,160.87 406.62,160.27 408.07,159.61 409.52,158.89 410.98,158.10 412.43,157.27 413.88,156.37 415.33,155.42 416.78,154.41 418.24,153.35 419.69,152.24 421.14,151.08 422.59,149.86 424.04,148.60 425.50,147.28 426.95,145.92 428.40,144.52 429.85,143.07 431.30,141.57 432.76,140.04 434.21,138.46 435.66,136.85 437.11,135.20 438.56,133.52 440.02,131.80 441.47,130.05 442.92,128.27 444.37,126.46 445.82,124.62 447.28,122.76 448.73,120.88 450.18,118.98 451.63,117.06 453.08,115.12 454.54,113.16 455.99,111.19 457.44,109.21 458.89,107.22 460.34,105.23 461.80,103.23 463.25,101.22 464.70,99.21 466.15,97.20 467.60,95.20 469.06,93.20 470.51,91.20 471.96,89.22 473.41,87.24 474.86,85.28 476.32,83.33 477.77,81.39 479.22,79.48 480.67,77.58 482.12,75.71 483.58,73.86 485.03,72.03 486.48,70.23 487.93,68.46 489.38,66.72 490.84,65.02 492.29,63.35 493.74,61.71 495.19,60.11 496.64,58.55 498.10,57.03 499.55,55.55 501.00,54.11 502.45,52.72 503.90,51.38 505.36,50.08 506.81,48.84 508.26,47.64 509.71,46.49 511.16,45.40 512.62,44.35 514.07,43.37 515.52,42.44 516.97,41.56 518.42,40.74 519.88,39.98 521.33,39.28 522.78,38.64 524.23,38.06 525.68,37.54 527.14,37.08 528.59,36.68 530.04,36.34 531.49,36.07 532.94,35.85 534.40,35.70 535.85,35.62 537.30,35.60 538.75,35.64 540.20,35.74 541.66,35.90 543.11,36.13 544.56,36.42 546.01,36.78 547.46,37.19 548.92,37.67 550.37,38.20 551.82,38.80 553.27,39.46 554.72,40.18 556.18,40.95 557.63,41.78 559.08,42.67 560.53,43.62 561.98,44.62 563.44,45.68 564.89,46.79 566.34,47.95 567.79,49.16 569.24,50.42 570.70,51.73 572.15,53.08 573.60,54.49 575.05,55.93 576.50,57.42 577.96,58.95 579.41,60.52 580.86,62.13 582.31,63.78 583.76,65.46 585.22,67.18 586.67,68.92 588.12,70.70 589.57,72.51 591.02,74.34 592.48,76.20 593.93,78.08 595.38,79.98 596.83,81.90 598.28,83.84 599.74,85.79 601.19,87.76 602.64,89.74 604.09,91.73 605.54,93.72 607.00,95.72 608.45,97.73 609.90,99.74 611.35,101.74 612.80,103.75 614.26,105.75 615.71,107.75 617.16,109.73 618.61,111.71 620.06,113.67 621.52,115.63 622.97,117.56 624.42,119.48 625.87,121.38 627.32,123.25 628.78,125.11 630.23,126.93 631.68,128.74 633.13,130.51 634.58,132.25 636.04,133.96 637.49,135.63 638.94,137.27 640.39,138.88 641.84,140.44 643.30,141.97 644.75,143.45 646.20,144.89 647.65,146.28 649.10,147.63 650.56,148.93 652.01,150.18 653.46,151.39 654.91,152.54 656.36,153.64 657.82,154.68 659.27,155.67 660.72,156.61 662.17,157.49 663.62,158.31 665.08,159.08 666.53,159.79 667.98,160.43 669.43,161.02 670.88,161.55 672.34,162.01 673.79,162.42 675.24,162.76 676.69,163.04 678.14,163.26 679.60,163.41 681.05,163.50 682.50,163.53"/>
<polyline stroke="#000000" points="101.70,86.84 103.15,86.81 104.60,86.74 106.06,86.64 107.51,86.51 108.96,86.34 110.41,86.14 111.86,85.91 113.32,85.64 114.77,85.34 116.22,85.01 117.67,84.65 119.12,84.25 120.58,83.82 122.03,83.36 123.48,82.87 124.93,82.35 126.38,81.80 127.84,81.23 129.29,80.62 130.74,79.98 132.19,79.32 133.64,78.63 135.10,77.91 136.55,77.17 138.00,76.41 139.45,75.62 140.90,74.81 142.36,73.97 143.81,73.12 145.26,72.24 146.71,71.34 148.16,70.43 149.62,69.50 151.07,68.55 152.52,67.58 153.97,66.60 155.42,65.60 156.88,64.59 158.33,63.57 159.78,62.54 161.23,61.50 162.68,60.45 164.14,59.39 165.59,58.32 167.04,57.25 168.49,56.17 169.94,55.09 171.40,54.01 172.85,52.92 174.30,51.83 175.75,50.75 177.20,49.66 178.66,48.58 180.11,47.50 181.56,46.43 183.01,45.36 184.46,44.30 185.92,43.25 187.37,42.20 188.82,41.17 190.27,40.14 191.72,39.13 193.18,38.13 194.63,37.14 196.08,36.17 197.53,35.22 198.98,34.28 200.44,33.36 201.89,32.46 203.34,31.58 204.79,30.71 206.24,29.87 207.70,29.05 209.15,28.26 210.60,27.49 212.05,26.74 213.50,26.02 214.96,25.32 216.41,24.65 217.86,24.00 219.31,23.39 220.76,22.80 222.22,22.24 223.67,21.71 225.12,21.22 226.57,20.75 228.02,20.31 229.48,19.90 230.93,19.53 232.38,19.19 233.83,18.88 235.28,18.60 236.74,18.36 238.19,18.15 239.64,17.97 241.09,17.83 242.54,17.72 244.00,17.65 245.45,17.61 246.90,17.60 248.35,17.63 249.80,17.69 251.26,17.79 252.71,17.92 254.16,18.08 255.61,18.28 257.06,18.51 258.52,18.77 259.97,19.07 261.42,19.40 262.87,19.76 264.32,20.15 265.78,20.58 267.23,21.03 268.68,21.52 270.13,22.04 271.58,22.59 273.04,23.16 274.49,23.77 275.94,24.40 277.39,25.06 278.84,25.75 280.30,26.46 281.75,27.20 283.20,27.96 284.65,28.75 286.10,29.56 287.56,30.39 289.01,31.25 290.46,32.12 291.91,33.02 293.36,33.93 294.82,34.86 296.27,35.81 297.72,36.77 299.17,37.75 300.62,38.75 302.08,39.75 303.53,40.77 304.98,41.81 306.43,42.85 307.88,43.90 309.34,44.96 310.79,46.02 312.24,47.09 313.69,48.17 315.14,49.25 316.60,50.34 318.05,51.42 319.50,52.51 320.95,53.59 322.40,54.68 323.86,55.76 325.31,56.84 326.76,57.92 328.21,58.98 329.66,60.05 331.12,61.10 332.57,62.15 334.02,63.18 335.47,64.21 336.92,65.22 338.38,66.22 339.83,67.21 341.28,68.18 342.73,69.14 344.18,70.08 345.64,71.00 347.09,71.90 348.54,72.79 349.99,73.65 351.44,74.49 352.90,75.31 354.35,76.11 355.80,76.89 357.25,77.64 358.70,78.36 360.16,79.06 361.61,79.73 363.06,80.38 364.51,81.00 365.96,81.59 367.42,82.15 368.87,82.68 370.32,83.18 371.77,83.65 373.22,84.09 374.68,84.50 376.13,84.88 377.58,85.22 379.03,85.53 380.48,85.81 381.94,86.06 383.39,86.27 384.84,86.45 386.29,86.60 387.74,86.71 389.20,86.79 390.65,86.83 392.10,86.84 393.55,86.81 395.00,86.76 396.46,86.66 397.91,86.54 399.36,86.38 400.81,86.18 402.26,85.95 403.72,85.69 405.17,85.40 406.62,85.07 408.07,84.72 409.52,84.32 410.98,83.90 412.43,83.45 413.88,82.96 415.33,82.45 416.78,81.90 418.24,81.33 419.69,80.73 421.14,80.10 422.59,79.44 424.04,78.76 425.50,78.04 426.95,77.31 428.40,76.55 429.85,75.76 431.30,74.95 432.76,74.12 434.21,73.27 435.66,72.40 437.11,71.51 438.56,70.59 440.02,69.66 441.47,68.72 442.92,67.75 444.37,66.78 445.82,65.78 447.28,64.78 448.73,63.76 450.18,62.73 451.63,61.69 453.08,60.64 454.54,59.58 455.99,58.51 457.44,57.44 458.89,56.37 460.34,55.29 461.80,54.20 463.25,53.12 464.70,52.03 466.15,50.94 467.60,49.86 469.06,48.78 470.51,47.70 471.96,46.62 473.41,45.55 474.86,44.49 476.32,43.43 477.77,42.39 479.22,41.35 480.67,40.32 482.12,39.31 483.58,38.31 485.03,37.32 486.48,36.35 487.93,35.39 489.38,34.45 490.84,33.52 492.29,32.62 493.74,31.73 495.19,30.87 496.64,30.02 498.10,29.20 499.55,28.40 501.00,27.62 502.45,26.87 503.90,26.14 505.36,25.44 506.81,24.77 508.26,24.12 509.71,23.50 511.16,22.90 512.62,22.34 514.07,21.81 515.52,21.30 516.97,20.83 518.42,20.39 519.88,19.97 521.33,19.60 522.78,19.25 524.23,18.93 525.68,18.65 527.14,18.40 528.59,18.19 530.04,18.00 531.49,17.85 532.94,17.74 534.40,17.66 535.85,17.61 537.30,17.60 538.75,17.62 540.20,17.68 541.66,17.77 543.11,17.89 544.56,18.05 546.01,18.24 547.46,18.46 548.92,18.72 550.37,19.01 551.82,19.34 553.27,19.69 554.72,20.08 556.18,20.50 557.63,20.95 559.08,21.43 560.53,21.94 561.98,22.49 563.44,23.06 564.89,23.66 566.34,24.28 567.79,24.94 569.24,25.62 570.70,26.33 572.15,27.06 573.60,27.82 575.05,28.61 576.50,29.41 577.96,30.24 579.41,31.09 580.86,31.96 582.31,32.85 583.76,33.76 585.22,34.69 586.67,35.64 588.12,36.60 589.57,37.58 591.02,38.57 592.48,39.57 593.93,40.59 595.38,41.62 596.83,42.66 598.28,43.71 599.74,44.77 601.19,45.83 602.64,46.90 604.09,47.98 605.54,49.06 607.00,50.14 608.45,51.23 609.90,52.31 611.35,53.40 612.80,54.49 614.26,55.57 615.71,56.65 617.16,57.72 618.61,58.79 620.06,59.86 621.52,60.91 622.97,61.96 624.42,63.00 625.87,64.02 627.32,65.04 628.78,66.04 630.23,67.03 631.68,68.01 633.13,68.97 634.58,69.91 636.04,70.83 637.49,71.74 638.94,72.63 640.39,73.50 641.84,74.34 643.30,75.17 644.75,75.97 646.20,76.75 647.65,77.50 649.10,78.23 650.56,78.94 652.01,79.62 653.46,80.27 654.91,80.89 656.36,81.48 657.82,82.05 659.27,82.59 660.72,83.09 662.17,83.57 663.62,84.02 665.08,84.43 666.53,84.81 667.98,85.16 669.43,85.48 670.88,85.77 672.34,86.02 673.79,86.24 675.24,86.42 676.69,86.57 678.14,86.69 679.60,86.77 681.05,86.82 682.50,86.84"/>
</g>
<g font-family='"Liberation Sans", Arial, Helvetica, sans-serif' font-size="25.8" fill="#000">
<text transform="translate(153.43 520.40) scale(0.98 1)" font-family='"Liberation Sans", Arial, Helvetica, sans-serif' font-size="25.8" text-anchor="middle" fill="#000">-2</text>
<text transform="translate(245.95 520.40) scale(0.98 1)" font-family='"Liberation Sans", Arial, Helvetica, sans-serif' font-size="25.8" text-anchor="middle" fill="#000">0</text>
<text transform="translate(338.47 520.40) scale(0.98 1)" font-family='"Liberation Sans", Arial, Helvetica, sans-serif' font-size="25.8" text-anchor="middle" fill="#000">2</text>
<text transform="translate(430.99 520.40) scale(0.98 1)" font-family='"Liberation Sans", Arial, Helvetica, sans-serif' font-size="25.8" text-anchor="middle" fill="#000">4</text>
<text transform="translate(523.51 520.40) scale(0.98 1)" font-family='"Liberation Sans", Arial, Helvetica, sans-serif' font-size="25.8" text-anchor="middle" fill="#000">6</text>
<text transform="translate(616.03 520.40) scale(0.98 1)" font-family='"Liberation Sans", Arial, Helvetica, sans-serif' font-size="25.8" text-anchor="middle" fill="#000">8</text>
<text transform="translate(90.50 496.60) scale(0.98 1)" font-family='"Liberation Sans", Arial, Helvetica, sans-serif' font-size="25.8" text-anchor="end" fill="#000">0.0</text>
<text transform="translate(90.50 402.04) scale(0.98 1)" font-family='"Liberation Sans", Arial, Helvetica, sans-serif' font-size="25.8" text-anchor="end" fill="#000">0.2</text>
<text transform="translate(90.50 307.48) scale(0.98 1)" font-family='"Liberation Sans", Arial, Helvetica, sans-serif' font-size="25.8" text-anchor="end" fill="#000">0.4</text>
<text transform="translate(90.50 212.92) scale(0.98 1)" font-family='"Liberation Sans", Arial, Helvetica, sans-serif' font-size="25.8" text-anchor="end" fill="#000">0.6</text>
<text transform="translate(90.50 118.36) scale(0.98 1)" font-family='"Liberation Sans", Arial, Helvetica, sans-serif' font-size="25.8" text-anchor="end" fill="#000">0.8</text>
<text transform="translate(90.50 23.80) scale(0.98 1)" font-family='"Liberation Sans", Arial, Helvetica, sans-serif' font-size="25.8" text-anchor="end" fill="#000">1.0</text>
</g>
<text transform="translate(375.00 543.40) scale(1.04 1) skewX(-8)" font-family='"Liberation Serif", "Times New Roman", Times, serif' font-size="37" font-style="italic" fill="#000">&#981;</text>
<text transform="translate(393.00 560.70) scale(1.04 1)" font-family='"Liberation Serif", "Times New Roman", Times, serif' font-size="24" font-style="italic" fill="#000">i</text>
<g transform="translate(31 282) rotate(-90)"><text x="0" y="0" font-family='"Liberation Serif", "Times New Roman", Times, serif' font-size="36">I/I</text><text x="35" y="15" font-family='"Liberation Serif", "Times New Roman", Times, serif' font-size="25">0</text></g>
<text transform="translate(109.00 61.00) scale(1.04 1)" font-family='"Liberation Serif", "Times New Roman", Times, serif' font-size="40" fill="#000">(a)</text>
<rect x="681.5" y="11.8" width="114.0" height="213.6" fill="#fff" stroke="#000" stroke-width="1.3"/>
<line x1="689.3" x2="740.6" y1="36.3" y2="36.3" stroke="#d7141e" stroke-width="2.8"/>
<text transform="translate(752.30 44.30) scale(0.98 1)" font-family='"Liberation Sans", Arial, Helvetica, sans-serif' font-size="24.3" fill="#000">1st</text>
<line x1="689.3" x2="740.6" y1="65.8" y2="65.8" stroke="#e6801e" stroke-width="2.8"/>
<text transform="translate(752.30 73.80) scale(0.98 1)" font-family='"Liberation Sans", Arial, Helvetica, sans-serif' font-size="24.3" fill="#000">2nd</text>
<line x1="689.3" x2="740.6" y1="95.3" y2="95.3" stroke="#f8f828" stroke-width="2.8"/>
<text transform="translate(752.30 103.30) scale(0.98 1)" font-family='"Liberation Sans", Arial, Helvetica, sans-serif' font-size="24.3" fill="#000">3rd</text>
<line x1="689.3" x2="740.6" y1="124.7" y2="124.7" stroke="#1ee11e" stroke-width="2.8"/>
<text transform="translate(752.30 132.70) scale(0.98 1)" font-family='"Liberation Sans", Arial, Helvetica, sans-serif' font-size="24.3" fill="#000">4th</text>
<line x1="689.3" x2="740.6" y1="154.2" y2="154.2" stroke="#146e6e" stroke-width="2.8"/>
<text transform="translate(752.30 162.20) scale(0.98 1)" font-family='"Liberation Sans", Arial, Helvetica, sans-serif' font-size="24.3" fill="#000">5th</text>
<line x1="689.3" x2="740.6" y1="183.6" y2="183.6" stroke="#0c0cc0" stroke-width="2.8"/>
<text transform="translate(752.30 191.60) scale(0.98 1)" font-family='"Liberation Sans", Arial, Helvetica, sans-serif' font-size="24.3" fill="#000">6th</text>
<line x1="689.3" x2="740.6" y1="213.1" y2="213.1" stroke="#000000" stroke-width="2.8"/>
<text transform="translate(752.30 221.10) scale(0.98 1)" font-family='"Liberation Sans", Arial, Helvetica, sans-serif' font-size="24.3" fill="#000">7th</text>
<defs><clipPath id="clipb"><rect x="951.7" y="16.6" width="580.7" height="474.99999999999994"/></clipPath></defs>
<rect x="951.7" y="17.6" width="580.7" height="472.79999999999995" fill="none" stroke="#000" stroke-width="2.0"/>
<path d="M957.67 490.4v-5 M1003.93 490.4v-9 M1050.19 490.4v-5 M1096.45 490.4v-9 M1142.71 490.4v-5 M1188.97 490.4v-9 M1235.23 490.4v-5 M1281.49 490.4v-9 M1327.75 490.4v-5 M1374.01 490.4v-9 M1420.27 490.4v-5 M1466.53 490.4v-9 M1512.79 490.4v-5 M951.7 490.40h9 M951.7 443.52h5 M951.7 396.64h9 M951.7 349.76h5 M951.7 302.88h9 M951.7 256.00h5 M951.7 209.12h9 M951.7 162.24h5 M951.7 115.36h9 M951.7 68.48h5 M951.7 21.60h9" stroke="#000" stroke-width="2" fill="none"/>
<g clip-path="url(#clipb)" fill="none" stroke-width="2.8" stroke-linejoin="round" stroke-linecap="round" stroke-dasharray="6.5 5.75 0.01 5.75">
<polyline stroke="#000000" points="951.70,421.75 953.15,421.78 954.60,421.84 956.06,421.94 957.51,422.07 958.96,422.24 960.41,422.44 961.86,422.67 963.31,422.93 964.77,423.23 966.22,423.56 967.67,423.92 969.12,424.31 970.57,424.74 972.02,425.19 973.48,425.68 974.93,426.19 976.38,426.74 977.83,427.31 979.28,427.91 980.74,428.54 982.19,429.20 983.64,429.88 985.09,430.59 986.54,431.33 987.99,432.09 989.45,432.87 990.90,433.67 992.35,434.50 993.80,435.35 995.25,436.22 996.70,437.11 998.16,438.01 999.61,438.94 1001.06,439.88 1002.51,440.84 1003.96,441.81 1005.41,442.80 1006.87,443.80 1008.32,444.81 1009.77,445.83 1011.22,446.86 1012.67,447.91 1014.13,448.96 1015.58,450.01 1017.03,451.08 1018.48,452.15 1019.93,453.22 1021.38,454.29 1022.84,455.37 1024.29,456.45 1025.74,457.52 1027.19,458.60 1028.64,459.67 1030.09,460.74 1031.55,461.81 1033.00,462.86 1034.45,463.92 1035.90,464.96 1037.35,466.00 1038.81,467.02 1040.26,468.04 1041.71,469.04 1043.16,470.03 1044.61,471.01 1046.06,471.97 1047.52,472.92 1048.97,473.85 1050.42,474.76 1051.87,475.66 1053.32,476.53 1054.77,477.39 1056.23,478.22 1057.68,479.03 1059.13,479.82 1060.58,480.59 1062.03,481.33 1063.48,482.05 1064.94,482.74 1066.39,483.40 1067.84,484.04 1069.29,484.65 1070.74,485.23 1072.20,485.79 1073.65,486.31 1075.10,486.81 1076.55,487.27 1078.00,487.71 1079.45,488.11 1080.91,488.48 1082.36,488.82 1083.81,489.13 1085.26,489.40 1086.71,489.64 1088.16,489.85 1089.62,490.03 1091.07,490.17 1092.52,490.28 1093.97,490.35 1095.42,490.39 1096.88,490.40 1098.33,490.37 1099.78,490.31 1101.23,490.22 1102.68,490.09 1104.13,489.93 1105.59,489.73 1107.04,489.50 1108.49,489.24 1109.94,488.95 1111.39,488.62 1112.84,488.27 1114.30,487.88 1115.75,487.46 1117.20,487.00 1118.65,486.52 1120.10,486.01 1121.55,485.47 1123.01,484.90 1124.46,484.30 1125.91,483.67 1127.36,483.02 1128.81,482.34 1130.27,481.63 1131.72,480.90 1133.17,480.14 1134.62,479.36 1136.07,478.56 1137.52,477.73 1138.98,476.89 1140.43,476.02 1141.88,475.14 1143.33,474.23 1144.78,473.31 1146.23,472.37 1147.69,471.41 1149.14,470.44 1150.59,469.46 1152.04,468.46 1153.49,467.45 1154.95,466.42 1156.40,465.39 1157.85,464.35 1159.30,463.30 1160.75,462.24 1162.20,461.18 1163.66,460.11 1165.11,459.04 1166.56,457.97 1168.01,456.89 1169.46,455.82 1170.91,454.74 1172.37,453.66 1173.82,452.59 1175.27,451.52 1176.72,450.45 1178.17,449.39 1179.62,448.34 1181.08,447.30 1182.53,446.26 1183.98,445.23 1185.43,444.21 1186.88,443.21 1188.34,442.22 1189.79,441.24 1191.24,440.27 1192.69,439.33 1194.14,438.39 1195.59,437.48 1197.05,436.58 1198.50,435.71 1199.95,434.85 1201.40,434.01 1202.85,433.20 1204.30,432.41 1205.76,431.64 1207.21,430.89 1208.66,430.17 1210.11,429.48 1211.56,428.81 1213.02,428.17 1214.47,427.56 1215.92,426.97 1217.37,426.41 1218.82,425.89 1220.27,425.39 1221.73,424.92 1223.18,424.48 1224.63,424.08 1226.08,423.70 1227.53,423.36 1228.98,423.05 1230.44,422.77 1231.89,422.53 1233.34,422.32 1234.79,422.14 1236.24,421.99 1237.69,421.88 1239.15,421.80 1240.60,421.76 1242.05,421.75 1243.50,421.77 1244.95,421.83 1246.41,421.92 1247.86,422.04 1249.31,422.20 1250.76,422.39 1252.21,422.61 1253.66,422.87 1255.12,423.16 1256.57,423.48 1258.02,423.84 1259.47,424.23 1260.92,424.64 1262.37,425.09 1263.83,425.57 1265.28,426.08 1266.73,426.62 1268.18,427.19 1269.63,427.78 1271.09,428.41 1272.54,429.06 1273.99,429.74 1275.44,430.44 1276.89,431.17 1278.34,431.92 1279.80,432.70 1281.25,433.50 1282.70,434.32 1284.15,435.17 1285.60,436.03 1287.05,436.91 1288.51,437.82 1289.96,438.74 1291.41,439.68 1292.86,440.63 1294.31,441.60 1295.76,442.58 1297.22,443.58 1298.67,444.59 1300.12,445.61 1301.57,446.64 1303.02,447.68 1304.48,448.73 1305.93,449.79 1307.38,450.85 1308.83,451.92 1310.28,452.99 1311.73,454.06 1313.19,455.14 1314.64,456.22 1316.09,457.29 1317.54,458.37 1318.99,459.44 1320.44,460.51 1321.90,461.58 1323.35,462.64 1324.80,463.69 1326.25,464.74 1327.70,465.78 1329.16,466.81 1330.61,467.82 1332.06,468.83 1333.51,469.82 1334.96,470.80 1336.41,471.77 1337.87,472.72 1339.32,473.65 1340.77,474.57 1342.22,475.47 1343.67,476.35 1345.12,477.21 1346.58,478.04 1348.03,478.86 1349.48,479.66 1350.93,480.43 1352.38,481.17 1353.83,481.90 1355.29,482.59 1356.74,483.26 1358.19,483.91 1359.64,484.52 1361.09,485.11 1362.55,485.67 1364.00,486.20 1365.45,486.70 1366.90,487.18 1368.35,487.62 1369.80,488.03 1371.26,488.40 1372.71,488.75 1374.16,489.06 1375.61,489.34 1377.06,489.59 1378.51,489.81 1379.97,489.99 1381.42,490.14 1382.87,490.26 1384.32,490.34 1385.77,490.39 1387.23,490.40 1388.68,490.38 1390.13,490.33 1391.58,490.24 1393.03,490.12 1394.48,489.96 1395.94,489.78 1397.39,489.56 1398.84,489.30 1400.29,489.02 1401.74,488.70 1403.19,488.35 1404.65,487.96 1406.10,487.55 1407.55,487.10 1409.00,486.63 1410.45,486.12 1411.90,485.59 1413.36,485.02 1414.81,484.43 1416.26,483.81 1417.71,483.16 1419.16,482.48 1420.62,481.78 1422.07,481.06 1423.52,480.31 1424.97,479.53 1426.42,478.73 1427.87,477.91 1429.33,477.07 1430.78,476.21 1432.23,475.33 1433.68,474.43 1435.13,473.51 1436.58,472.57 1438.04,471.62 1439.49,470.65 1440.94,469.67 1442.39,468.67 1443.84,467.66 1445.30,466.64 1446.75,465.61 1448.20,464.57 1449.65,463.53 1451.10,462.47 1452.55,461.41 1454.01,460.34 1455.46,459.27 1456.91,458.20 1458.36,457.12 1459.81,456.05 1461.26,454.97 1462.72,453.89 1464.17,452.82 1465.62,451.75 1467.07,450.68 1468.52,449.62 1469.97,448.57 1471.43,447.52 1472.88,446.48 1474.33,445.45 1475.78,444.43 1477.23,443.42 1478.69,442.43 1480.14,441.45 1481.59,440.48 1483.04,439.53 1484.49,438.59 1485.94,437.67 1487.40,436.77 1488.85,435.89 1490.30,435.03 1491.75,434.19 1493.20,433.37 1494.65,432.57 1496.11,431.80 1497.56,431.05 1499.01,430.33 1500.46,429.63 1501.91,428.95 1503.37,428.31 1504.82,427.69 1506.27,427.09 1507.72,426.53 1509.17,426.00 1510.62,425.49 1512.08,425.02 1513.53,424.57 1514.98,424.16 1516.43,423.78 1517.88,423.43 1519.33,423.11 1520.79,422.83 1522.24,422.58 1523.69,422.36 1525.14,422.17 1526.59,422.02 1528.04,421.90 1529.50,421.82 1530.95,421.76 1532.40,421.75"/>
<polyline stroke="#0c0cc0" points="951.70,345.71 953.15,345.76 954.60,345.88 956.06,346.06 957.51,346.30 958.96,346.61 960.41,346.98 961.86,347.40 963.31,347.89 964.77,348.44 966.22,349.05 967.67,349.72 969.12,350.44 970.57,351.23 972.02,352.07 973.48,352.96 974.93,353.92 976.38,354.92 977.83,355.98 979.28,357.10 980.74,358.26 982.19,359.47 983.64,360.74 985.09,362.05 986.54,363.40 987.99,364.81 989.45,366.25 990.90,367.74 992.35,369.27 993.80,370.84 995.25,372.44 996.70,374.08 998.16,375.76 999.61,377.47 1001.06,379.21 1002.51,380.98 1003.96,382.77 1005.41,384.60 1006.87,386.45 1008.32,388.32 1009.77,390.21 1011.22,392.11 1012.67,394.04 1014.13,395.98 1015.58,397.93 1017.03,399.90 1018.48,401.87 1019.93,403.85 1021.38,405.84 1022.84,407.83 1024.29,409.82 1025.74,411.81 1027.19,413.80 1028.64,415.78 1030.09,417.75 1031.55,419.72 1033.00,421.68 1034.45,423.62 1035.90,425.55 1037.35,427.47 1038.81,429.36 1040.26,431.24 1041.71,433.09 1043.16,434.93 1044.61,436.73 1046.06,438.51 1047.52,440.26 1048.97,441.98 1050.42,443.66 1051.87,445.32 1053.32,446.93 1054.77,448.51 1056.23,450.05 1057.68,451.55 1059.13,453.01 1060.58,454.43 1062.03,455.80 1063.48,457.12 1064.94,458.40 1066.39,459.63 1067.84,460.81 1069.29,461.94 1070.74,463.01 1072.20,464.04 1073.65,465.01 1075.10,465.92 1076.55,466.78 1078.00,467.58 1079.45,468.32 1080.91,469.01 1082.36,469.64 1083.81,470.20 1085.26,470.71 1086.71,471.16 1088.16,471.54 1089.62,471.87 1091.07,472.13 1092.52,472.33 1093.97,472.47 1095.42,472.54 1096.88,472.55 1098.33,472.51 1099.78,472.39 1101.23,472.22 1102.68,471.98 1104.13,471.68 1105.59,471.32 1107.04,470.90 1108.49,470.42 1109.94,469.88 1111.39,469.28 1112.84,468.62 1114.30,467.90 1115.75,467.12 1117.20,466.28 1118.65,465.39 1120.10,464.45 1121.55,463.44 1123.01,462.39 1124.46,461.28 1125.91,460.12 1127.36,458.92 1128.81,457.66 1130.27,456.35 1131.72,455.00 1133.17,453.60 1134.62,452.16 1136.07,450.68 1137.52,449.16 1138.98,447.59 1140.43,445.99 1141.88,444.35 1143.33,442.68 1144.78,440.97 1146.23,439.24 1147.69,437.47 1149.14,435.68 1150.59,433.86 1152.04,432.01 1153.49,430.14 1154.95,428.26 1156.40,426.35 1157.85,424.42 1159.30,422.49 1160.75,420.53 1162.20,418.57 1163.66,416.60 1165.11,414.62 1166.56,412.63 1168.01,410.64 1169.46,408.65 1170.91,406.66 1172.37,404.68 1173.82,402.69 1175.27,400.72 1176.72,398.75 1178.17,396.79 1179.62,394.84 1181.08,392.91 1182.53,390.99 1183.98,389.10 1185.43,387.22 1186.88,385.36 1188.34,383.53 1189.79,381.72 1191.24,379.94 1192.69,378.19 1194.14,376.46 1195.59,374.77 1197.05,373.12 1198.50,371.50 1199.95,369.91 1201.40,368.37 1202.85,366.86 1204.30,365.40 1205.76,363.98 1207.21,362.60 1208.66,361.27 1210.11,359.99 1211.56,358.76 1213.02,357.57 1214.47,356.44 1215.92,355.36 1217.37,354.33 1218.82,353.35 1220.27,352.43 1221.73,351.57 1223.18,350.76 1224.63,350.01 1226.08,349.32 1227.53,348.69 1228.98,348.11 1230.44,347.60 1231.89,347.15 1233.34,346.75 1234.79,346.42 1236.24,346.15 1237.69,345.95 1239.15,345.80 1240.60,345.72 1242.05,345.70 1243.50,345.74 1244.95,345.85 1246.41,346.02 1247.86,346.25 1249.31,346.54 1250.76,346.89 1252.21,347.31 1253.66,347.78 1255.12,348.32 1256.57,348.91 1258.02,349.57 1259.47,350.28 1260.92,351.05 1262.37,351.88 1263.83,352.77 1265.28,353.71 1266.73,354.70 1268.18,355.75 1269.63,356.85 1271.09,358.01 1272.54,359.21 1273.99,360.46 1275.44,361.76 1276.89,363.11 1278.34,364.50 1279.80,365.94 1281.25,367.42 1282.70,368.94 1284.15,370.50 1285.60,372.10 1287.05,373.73 1288.51,375.40 1289.96,377.10 1291.41,378.83 1292.86,380.60 1294.31,382.39 1295.76,384.21 1297.22,386.05 1298.67,387.91 1300.12,389.80 1301.57,391.71 1303.02,393.63 1304.48,395.56 1305.93,397.52 1307.38,399.48 1308.83,401.45 1310.28,403.43 1311.73,405.41 1313.19,407.40 1314.64,409.39 1316.09,411.38 1317.54,413.37 1318.99,415.35 1320.44,417.33 1321.90,419.30 1323.35,421.26 1324.80,423.21 1326.25,425.14 1327.70,427.06 1329.16,428.96 1330.61,430.84 1332.06,432.70 1333.51,434.54 1334.96,436.35 1336.41,438.13 1337.87,439.89 1339.32,441.61 1340.77,443.31 1342.22,444.97 1343.67,446.59 1345.12,448.18 1346.58,449.73 1348.03,451.24 1349.48,452.70 1350.93,454.13 1352.38,455.51 1353.83,456.84 1355.29,458.13 1356.74,459.37 1358.19,460.56 1359.64,461.70 1361.09,462.79 1362.55,463.82 1364.00,464.80 1365.45,465.73 1366.90,466.60 1368.35,467.41 1369.80,468.17 1371.26,468.87 1372.71,469.51 1374.16,470.09 1375.61,470.61 1377.06,471.07 1378.51,471.47 1379.97,471.80 1381.42,472.08 1382.87,472.29 1384.32,472.44 1385.77,472.53 1387.23,472.56 1388.68,472.52 1390.13,472.42 1391.58,472.26 1393.03,472.04 1394.48,471.75 1395.94,471.41 1397.39,471.00 1398.84,470.53 1400.29,470.00 1401.74,469.41 1403.19,468.76 1404.65,468.05 1406.10,467.29 1407.55,466.47 1409.00,465.59 1410.45,464.65 1411.90,463.66 1413.36,462.62 1414.81,461.52 1416.26,460.38 1417.71,459.18 1419.16,457.93 1420.62,456.64 1422.07,455.29 1423.52,453.91 1424.97,452.47 1426.42,451.00 1427.87,449.48 1429.33,447.93 1430.78,446.34 1432.23,444.71 1433.68,443.04 1435.13,441.34 1436.58,439.61 1438.04,437.85 1439.49,436.06 1440.94,434.25 1442.39,432.41 1443.84,430.54 1445.30,428.66 1446.75,426.76 1448.20,424.84 1449.65,422.90 1451.10,420.95 1452.55,418.99 1454.01,417.02 1455.46,415.04 1456.91,413.06 1458.36,411.07 1459.81,409.08 1461.26,407.09 1462.72,405.10 1464.17,403.12 1465.62,401.14 1467.07,399.17 1468.52,397.21 1469.97,395.26 1471.43,393.32 1472.88,391.40 1474.33,389.50 1475.78,387.62 1477.23,385.76 1478.69,383.92 1480.14,382.10 1481.59,380.32 1483.04,378.56 1484.49,376.83 1485.94,375.13 1487.40,373.47 1488.85,371.84 1490.30,370.25 1491.75,368.70 1493.20,367.18 1494.65,365.71 1496.11,364.28 1497.56,362.89 1499.01,361.56 1500.46,360.26 1501.91,359.02 1503.37,357.82 1504.82,356.68 1506.27,355.58 1507.72,354.54 1509.17,353.56 1510.62,352.62 1512.08,351.75 1513.53,350.93 1514.98,350.17 1516.43,349.46 1517.88,348.82 1519.33,348.23 1520.79,347.70 1522.24,347.24 1523.69,346.83 1525.14,346.49 1526.59,346.21 1528.04,345.99 1529.50,345.83 1530.95,345.73 1532.40,345.70"/>
<polyline stroke="#146e6e" points="951.70,256.01 953.15,256.08 954.60,256.23 956.06,256.47 957.51,256.79 958.96,257.19 960.41,257.67 961.86,258.22 963.31,258.86 964.77,259.58 966.22,260.37 967.67,261.25 969.12,262.20 970.57,263.22 972.02,264.32 973.48,265.49 974.93,266.74 976.38,268.05 977.83,269.44 979.28,270.89 980.74,272.41 982.19,274.00 983.64,275.65 985.09,277.36 986.54,279.13 987.99,280.96 989.45,282.85 990.90,284.80 992.35,286.79 993.80,288.84 995.25,290.94 996.70,293.08 998.16,295.27 999.61,297.51 1001.06,299.78 1002.51,302.09 1003.96,304.44 1005.41,306.82 1006.87,309.24 1008.32,311.68 1009.77,314.15 1011.22,316.64 1012.67,319.16 1014.13,321.69 1015.58,324.25 1017.03,326.81 1018.48,329.39 1019.93,331.98 1021.38,334.57 1022.84,337.17 1024.29,339.77 1025.74,342.37 1027.19,344.97 1028.64,347.56 1030.09,350.14 1031.55,352.71 1033.00,355.27 1034.45,357.81 1035.90,360.33 1037.35,362.83 1038.81,365.31 1040.26,367.76 1041.71,370.18 1043.16,372.58 1044.61,374.94 1046.06,377.26 1047.52,379.55 1048.97,381.79 1050.42,383.99 1051.87,386.15 1053.32,388.27 1054.77,390.33 1056.23,392.34 1057.68,394.30 1059.13,396.21 1060.58,398.06 1062.03,399.85 1063.48,401.58 1064.94,403.25 1066.39,404.85 1067.84,406.40 1069.29,407.87 1070.74,409.28 1072.20,410.61 1073.65,411.88 1075.10,413.07 1076.55,414.20 1078.00,415.24 1079.45,416.22 1080.91,417.11 1082.36,417.93 1083.81,418.67 1085.26,419.33 1086.71,419.92 1088.16,420.42 1089.62,420.84 1091.07,421.19 1092.52,421.45 1093.97,421.63 1095.42,421.73 1096.88,421.74 1098.33,421.68 1099.78,421.53 1101.23,421.30 1102.68,420.99 1104.13,420.61 1105.59,420.14 1107.04,419.58 1108.49,418.96 1109.94,418.25 1111.39,417.46 1112.84,416.60 1114.30,415.66 1115.75,414.64 1117.20,413.55 1118.65,412.38 1120.10,411.15 1121.55,409.84 1123.01,408.46 1124.46,407.01 1125.91,405.50 1127.36,403.92 1128.81,402.28 1130.27,400.57 1131.72,398.81 1133.17,396.98 1134.62,395.10 1136.07,393.16 1137.52,391.17 1138.98,389.13 1140.43,387.03 1141.88,384.89 1143.33,382.71 1144.78,380.48 1146.23,378.21 1147.69,375.90 1149.14,373.56 1150.59,371.18 1152.04,368.77 1153.49,366.33 1154.95,363.86 1156.40,361.37 1157.85,358.86 1159.30,356.32 1160.75,353.77 1162.20,351.21 1163.66,348.63 1165.11,346.04 1166.56,343.45 1168.01,340.85 1169.46,338.25 1170.91,335.65 1172.37,333.05 1173.82,330.46 1175.27,327.88 1176.72,325.31 1178.17,322.75 1179.62,320.21 1181.08,317.68 1182.53,315.18 1183.98,312.70 1185.43,310.24 1186.88,307.82 1188.34,305.42 1189.79,303.06 1191.24,300.73 1192.69,298.44 1194.14,296.19 1195.59,293.99 1197.05,291.82 1198.50,289.70 1199.95,287.63 1201.40,285.62 1202.85,283.65 1204.30,281.74 1205.76,279.88 1207.21,278.09 1208.66,276.35 1210.11,274.67 1211.56,273.06 1213.02,271.51 1214.47,270.03 1215.92,268.62 1217.37,267.27 1218.82,266.00 1220.27,264.80 1221.73,263.67 1223.18,262.61 1224.63,261.63 1226.08,260.73 1227.53,259.90 1228.98,259.15 1230.44,258.48 1231.89,257.89 1233.34,257.38 1234.79,256.94 1236.24,256.59 1237.69,256.32 1239.15,256.13 1240.60,256.03 1242.05,256.00 1243.50,256.06 1244.95,256.19 1246.41,256.41 1247.86,256.71 1249.31,257.10 1250.76,257.56 1252.21,258.10 1253.66,258.72 1255.12,259.42 1256.57,260.20 1258.02,261.05 1259.47,261.99 1260.92,262.99 1262.37,264.08 1263.83,265.23 1265.28,266.46 1266.73,267.76 1268.18,269.13 1269.63,270.57 1271.09,272.08 1272.54,273.65 1273.99,275.29 1275.44,276.99 1276.89,278.75 1278.34,280.57 1279.80,282.44 1281.25,284.38 1282.70,286.36 1284.15,288.40 1285.60,290.49 1287.05,292.62 1288.51,294.80 1289.96,297.02 1291.41,299.29 1292.86,301.59 1294.31,303.93 1295.76,306.31 1297.22,308.72 1298.67,311.15 1300.12,313.62 1301.57,316.11 1303.02,318.62 1304.48,321.15 1305.93,323.70 1307.38,326.26 1308.83,328.84 1310.28,331.43 1311.73,334.02 1313.19,336.62 1314.64,339.22 1316.09,341.82 1317.54,344.41 1318.99,347.01 1320.44,349.59 1321.90,352.16 1323.35,354.72 1324.80,357.27 1326.25,359.79 1327.70,362.30 1329.16,364.78 1330.61,367.24 1332.06,369.67 1333.51,372.07 1334.96,374.43 1336.41,376.77 1337.87,379.06 1339.32,381.31 1340.77,383.53 1342.22,385.70 1343.67,387.82 1345.12,389.89 1346.58,391.92 1348.03,393.89 1349.48,395.81 1350.93,397.67 1352.38,399.47 1353.83,401.21 1355.29,402.90 1356.74,404.52 1358.19,406.07 1359.64,407.56 1361.09,408.98 1362.55,410.33 1364.00,411.62 1365.45,412.83 1366.90,413.96 1368.35,415.03 1369.80,416.01 1371.26,416.93 1372.71,417.76 1374.16,418.52 1375.61,419.20 1377.06,419.80 1378.51,420.32 1379.97,420.76 1381.42,421.12 1382.87,421.40 1384.32,421.60 1385.77,421.71 1387.23,421.75 1388.68,421.70 1390.13,421.57 1391.58,421.36 1393.03,421.07 1394.48,420.70 1395.94,420.24 1397.39,419.71 1398.84,419.10 1400.29,418.40 1401.74,417.63 1403.19,416.79 1404.65,415.86 1406.10,414.86 1407.55,413.79 1409.00,412.64 1410.45,411.42 1411.90,410.12 1413.36,408.76 1414.81,407.33 1416.26,405.83 1417.71,404.26 1419.16,402.64 1420.62,400.94 1422.07,399.19 1423.52,397.38 1424.97,395.51 1426.42,393.58 1427.87,391.60 1429.33,389.57 1430.78,387.49 1432.23,385.36 1433.68,383.18 1435.13,380.96 1436.58,378.70 1438.04,376.40 1439.49,374.06 1440.94,371.69 1442.39,369.29 1443.84,366.85 1445.30,364.39 1446.75,361.91 1448.20,359.40 1449.65,356.87 1451.10,354.32 1452.55,351.76 1454.01,349.18 1455.46,346.60 1456.91,344.00 1458.36,341.41 1459.81,338.81 1461.26,336.21 1462.72,333.61 1464.17,331.02 1465.62,328.43 1467.07,325.86 1468.52,323.29 1469.97,320.75 1471.43,318.22 1472.88,315.71 1474.33,313.23 1475.78,310.77 1477.23,308.33 1478.69,305.93 1480.14,303.56 1481.59,301.23 1483.04,298.93 1484.49,296.67 1485.94,294.45 1487.40,292.28 1488.85,290.15 1490.30,288.07 1491.75,286.04 1493.20,284.07 1494.65,282.14 1496.11,280.27 1497.56,278.46 1499.01,276.71 1500.46,275.03 1501.91,273.40 1503.37,271.84 1504.82,270.34 1506.27,268.91 1507.72,267.55 1509.17,266.26 1510.62,265.05 1512.08,263.90 1513.53,262.83 1514.98,261.83 1516.43,260.91 1517.88,260.07 1519.33,259.30 1520.79,258.62 1522.24,258.01 1523.69,257.48 1525.14,257.03 1526.59,256.66 1528.04,256.37 1529.50,256.17 1530.95,256.04 1532.40,256.00"/>
<polyline stroke="#1ee11e" points="951.70,166.31 953.15,166.39 954.60,166.55 956.06,166.81 957.51,167.15 958.96,167.58 960.41,168.10 961.86,168.71 963.31,169.40 964.77,170.17 966.22,171.03 967.67,171.98 969.12,173.01 970.57,174.11 972.02,175.30 973.48,176.57 974.93,177.92 976.38,179.34 977.83,180.84 979.28,182.42 980.74,184.06 982.19,185.78 983.64,187.56 985.09,189.42 986.54,191.34 987.99,193.32 989.45,195.36 990.90,197.47 992.35,199.63 993.80,201.85 995.25,204.12 996.70,206.44 998.16,208.81 999.61,211.22 1001.06,213.69 1002.51,216.19 1003.96,218.73 1005.41,221.31 1006.87,223.92 1008.32,226.56 1009.77,229.24 1011.22,231.94 1012.67,234.66 1014.13,237.41 1015.58,240.17 1017.03,242.95 1018.48,245.74 1019.93,248.54 1021.38,251.35 1022.84,254.16 1024.29,256.97 1025.74,259.79 1027.19,262.60 1028.64,265.40 1030.09,268.20 1031.55,270.98 1033.00,273.75 1034.45,276.50 1035.90,279.23 1037.35,281.93 1038.81,284.62 1040.26,287.27 1041.71,289.89 1043.16,292.48 1044.61,295.03 1046.06,297.55 1047.52,300.02 1048.97,302.45 1050.42,304.84 1051.87,307.18 1053.32,309.46 1054.77,311.70 1056.23,313.87 1057.68,316.00 1059.13,318.06 1060.58,320.06 1062.03,322.00 1063.48,323.87 1064.94,325.68 1066.39,327.42 1067.84,329.09 1069.29,330.68 1070.74,332.20 1072.20,333.65 1073.65,335.02 1075.10,336.32 1076.55,337.53 1078.00,338.66 1079.45,339.71 1080.91,340.68 1082.36,341.57 1083.81,342.37 1085.26,343.09 1086.71,343.72 1088.16,344.27 1089.62,344.72 1091.07,345.09 1092.52,345.38 1093.97,345.57 1095.42,345.68 1096.88,345.70 1098.33,345.63 1099.78,345.47 1101.23,345.22 1102.68,344.89 1104.13,344.47 1105.59,343.96 1107.04,343.36 1108.49,342.68 1109.94,341.91 1111.39,341.06 1112.84,340.13 1114.30,339.11 1115.75,338.01 1117.20,336.83 1118.65,335.57 1120.10,334.23 1121.55,332.81 1123.01,331.32 1124.46,329.76 1125.91,328.12 1127.36,326.41 1128.81,324.63 1130.27,322.78 1131.72,320.87 1133.17,318.90 1134.62,316.86 1136.07,314.76 1137.52,312.61 1138.98,310.39 1140.43,308.13 1141.88,305.81 1143.33,303.45 1144.78,301.04 1146.23,298.58 1147.69,296.08 1149.14,293.54 1150.59,290.97 1152.04,288.36 1153.49,285.72 1154.95,283.05 1156.40,280.35 1157.85,277.63 1159.30,274.89 1160.75,272.13 1162.20,269.35 1163.66,266.56 1165.11,263.76 1166.56,260.95 1168.01,258.14 1169.46,255.33 1170.91,252.51 1172.37,249.70 1173.82,246.90 1175.27,244.10 1176.72,241.32 1178.17,238.55 1179.62,235.80 1181.08,233.06 1182.53,230.35 1183.98,227.67 1185.43,225.01 1186.88,222.39 1188.34,219.79 1189.79,217.24 1191.24,214.72 1192.69,212.24 1194.14,209.80 1195.59,207.41 1197.05,205.07 1198.50,202.78 1199.95,200.54 1201.40,198.36 1202.85,196.23 1204.30,194.16 1205.76,192.15 1207.21,190.20 1208.66,188.32 1210.11,186.51 1211.56,184.76 1213.02,183.09 1214.47,181.49 1215.92,179.96 1217.37,178.50 1218.82,177.12 1220.27,175.82 1221.73,174.60 1223.18,173.45 1224.63,172.39 1226.08,171.42 1227.53,170.52 1228.98,169.71 1230.44,168.98 1231.89,168.34 1233.34,167.79 1234.79,167.32 1236.24,166.94 1237.69,166.65 1239.15,166.44 1240.60,166.33 1242.05,166.30 1243.50,166.36 1244.95,166.51 1246.41,166.75 1247.86,167.07 1249.31,167.48 1250.76,167.98 1252.21,168.57 1253.66,169.24 1255.12,170.00 1256.57,170.84 1258.02,171.77 1259.47,172.78 1260.92,173.87 1262.37,175.04 1263.83,176.29 1265.28,177.62 1266.73,179.03 1268.18,180.52 1269.63,182.07 1271.09,183.70 1272.54,185.41 1273.99,187.18 1275.44,189.02 1276.89,190.92 1278.34,192.89 1279.80,194.92 1281.25,197.01 1282.70,199.16 1284.15,201.37 1285.60,203.63 1287.05,205.94 1288.51,208.30 1289.96,210.70 1291.41,213.16 1292.86,215.65 1294.31,218.18 1295.76,220.75 1297.22,223.36 1298.67,226.00 1300.12,228.66 1301.57,231.36 1303.02,234.08 1304.48,236.82 1305.93,239.58 1307.38,242.35 1308.83,245.14 1310.28,247.94 1311.73,250.75 1313.19,253.56 1314.64,256.37 1316.09,259.19 1317.54,262.00 1318.99,264.80 1320.44,267.60 1321.90,270.39 1323.35,273.16 1324.80,275.91 1326.25,278.65 1327.70,281.36 1329.16,284.05 1330.61,286.70 1332.06,289.33 1333.51,291.93 1334.96,294.49 1336.41,297.02 1337.87,299.50 1339.32,301.94 1340.77,304.33 1342.22,306.68 1343.67,308.98 1345.12,311.22 1346.58,313.41 1348.03,315.55 1349.48,317.62 1350.93,319.64 1352.38,321.59 1353.83,323.48 1355.29,325.30 1356.74,327.05 1358.19,328.74 1359.64,330.35 1361.09,331.89 1362.55,333.35 1364.00,334.74 1365.45,336.05 1366.90,337.28 1368.35,338.43 1369.80,339.50 1371.26,340.48 1372.71,341.39 1374.16,342.21 1375.61,342.94 1377.06,343.59 1378.51,344.16 1379.97,344.63 1381.42,345.02 1382.87,345.32 1384.32,345.54 1385.77,345.66 1387.23,345.70 1388.68,345.65 1390.13,345.51 1391.58,345.28 1393.03,344.97 1394.48,344.56 1395.94,344.07 1397.39,343.50 1398.84,342.83 1400.29,342.08 1401.74,341.25 1403.19,340.33 1404.65,339.33 1406.10,338.25 1407.55,337.09 1409.00,335.84 1410.45,334.52 1411.90,333.12 1413.36,331.65 1414.81,330.10 1416.26,328.47 1417.71,326.78 1419.16,325.02 1420.62,323.18 1422.07,321.29 1423.52,319.32 1424.97,317.30 1426.42,315.21 1427.87,313.07 1429.33,310.87 1430.78,308.62 1432.23,306.31 1433.68,303.96 1435.13,301.56 1436.58,299.11 1438.04,296.62 1439.49,294.09 1440.94,291.52 1442.39,288.92 1443.84,286.29 1445.30,283.62 1446.75,280.93 1448.20,278.21 1449.65,275.48 1451.10,272.72 1452.55,269.95 1454.01,267.16 1455.46,264.36 1456.91,261.55 1458.36,258.74 1459.81,255.93 1461.26,253.11 1462.72,250.30 1464.17,247.50 1465.62,244.70 1467.07,241.91 1468.52,239.14 1469.97,236.38 1471.43,233.65 1472.88,230.93 1474.33,228.24 1475.78,225.58 1477.23,222.95 1478.69,220.34 1480.14,217.78 1481.59,215.25 1483.04,212.76 1484.49,210.32 1485.94,207.92 1487.40,205.57 1488.85,203.27 1490.30,201.01 1491.75,198.82 1493.20,196.68 1494.65,194.60 1496.11,192.57 1497.56,190.61 1499.01,188.72 1500.46,186.89 1501.91,185.13 1503.37,183.44 1504.82,181.82 1506.27,180.28 1507.72,178.80 1509.17,177.41 1510.62,176.09 1512.08,174.85 1513.53,173.69 1514.98,172.61 1516.43,171.62 1517.88,170.70 1519.33,169.87 1520.79,169.13 1522.24,168.47 1523.69,167.90 1525.14,167.41 1526.59,167.01 1528.04,166.70 1529.50,166.48 1530.95,166.35 1532.40,166.30"/>
<polyline stroke="#f8f828" points="951.70,90.26 953.15,90.33 954.60,90.49 956.06,90.73 957.51,91.04 958.96,91.44 960.41,91.92 961.86,92.48 963.31,93.12 964.77,93.83 966.22,94.63 967.67,95.50 969.12,96.45 970.57,97.47 972.02,98.57 973.48,99.74 974.93,100.99 976.38,102.30 977.83,103.69 979.28,105.14 980.74,106.66 982.19,108.25 983.64,109.90 985.09,111.61 986.54,113.39 987.99,115.22 989.45,117.11 990.90,119.05 992.35,121.05 993.80,123.09 995.25,125.19 996.70,127.34 998.16,129.53 999.61,131.76 1001.06,134.03 1002.51,136.35 1003.96,138.69 1005.41,141.08 1006.87,143.49 1008.32,145.93 1009.77,148.40 1011.22,150.90 1012.67,153.41 1014.13,155.95 1015.58,158.50 1017.03,161.07 1018.48,163.65 1019.93,166.23 1021.38,168.83 1022.84,171.43 1024.29,174.03 1025.74,176.63 1027.19,179.22 1028.64,181.81 1030.09,184.40 1031.55,186.97 1033.00,189.52 1034.45,192.06 1035.90,194.59 1037.35,197.09 1038.81,199.56 1040.26,202.02 1041.71,204.44 1043.16,206.83 1044.61,209.19 1046.06,211.51 1047.52,213.80 1048.97,216.04 1050.42,218.25 1051.87,220.41 1053.32,222.52 1054.77,224.58 1056.23,226.60 1057.68,228.56 1059.13,230.46 1060.58,232.31 1062.03,234.10 1063.48,235.83 1064.94,237.50 1066.39,239.11 1067.84,240.65 1069.29,242.12 1070.74,243.53 1072.20,244.87 1073.65,246.13 1075.10,247.33 1076.55,248.45 1078.00,249.50 1079.45,250.47 1080.91,251.37 1082.36,252.18 1083.81,252.93 1085.26,253.59 1086.71,254.17 1088.16,254.67 1089.62,255.10 1091.07,255.44 1092.52,255.70 1093.97,255.88 1095.42,255.98 1096.88,256.00 1098.33,255.93 1099.78,255.79 1101.23,255.56 1102.68,255.25 1104.13,254.86 1105.59,254.39 1107.04,253.84 1108.49,253.21 1109.94,252.50 1111.39,251.71 1112.84,250.85 1114.30,249.91 1115.75,248.89 1117.20,247.80 1118.65,246.64 1120.10,245.40 1121.55,244.09 1123.01,242.72 1124.46,241.27 1125.91,239.76 1127.36,238.18 1128.81,236.53 1130.27,234.83 1131.72,233.06 1133.17,231.24 1134.62,229.35 1136.07,227.42 1137.52,225.42 1138.98,223.38 1140.43,221.29 1141.88,219.15 1143.33,216.96 1144.78,214.74 1146.23,212.47 1147.69,210.16 1149.14,207.81 1150.59,205.43 1152.04,203.02 1153.49,200.58 1154.95,198.12 1156.40,195.63 1157.85,193.11 1159.30,190.58 1160.75,188.03 1162.20,185.46 1163.66,182.88 1165.11,180.30 1166.56,177.70 1168.01,175.11 1169.46,172.50 1170.91,169.90 1172.37,167.31 1173.82,164.72 1175.27,162.13 1176.72,159.56 1178.17,157.00 1179.62,154.46 1181.08,151.94 1182.53,149.43 1183.98,146.95 1185.43,144.50 1186.88,142.07 1188.34,139.68 1189.79,137.31 1191.24,134.99 1192.69,132.70 1194.14,130.45 1195.59,128.24 1197.05,126.08 1198.50,123.96 1199.95,121.89 1201.40,119.87 1202.85,117.90 1204.30,115.99 1205.76,114.14 1207.21,112.34 1208.66,110.60 1210.11,108.93 1211.56,107.31 1213.02,105.77 1214.47,104.28 1215.92,102.87 1217.37,101.53 1218.82,100.25 1220.27,99.05 1221.73,97.92 1223.18,96.87 1224.63,95.89 1226.08,94.98 1227.53,94.15 1228.98,93.40 1230.44,92.73 1231.89,92.14 1233.34,91.63 1234.79,91.20 1236.24,90.85 1237.69,90.58 1239.15,90.39 1240.60,90.28 1242.05,90.26 1243.50,90.31 1244.95,90.45 1246.41,90.67 1247.86,90.97 1249.31,91.35 1250.76,91.81 1252.21,92.35 1253.66,92.97 1255.12,93.67 1256.57,94.45 1258.02,95.31 1259.47,96.24 1260.92,97.25 1262.37,98.33 1263.83,99.49 1265.28,100.72 1266.73,102.02 1268.18,103.39 1269.63,104.83 1271.09,106.33 1272.54,107.91 1273.99,109.54 1275.44,111.24 1276.89,113.00 1278.34,114.82 1279.80,116.70 1281.25,118.63 1282.70,120.62 1284.15,122.65 1285.60,124.74 1287.05,126.87 1288.51,129.06 1289.96,131.28 1291.41,133.54 1292.86,135.85 1294.31,138.19 1295.76,140.56 1297.22,142.97 1298.67,145.41 1300.12,147.87 1301.57,150.36 1303.02,152.87 1304.48,155.40 1305.93,157.95 1307.38,160.52 1308.83,163.09 1310.28,165.68 1311.73,168.27 1313.19,170.87 1314.64,173.47 1316.09,176.07 1317.54,178.67 1318.99,181.26 1320.44,183.84 1321.90,186.42 1323.35,188.98 1324.80,191.52 1326.25,194.05 1327.70,196.55 1329.16,199.04 1330.61,201.49 1332.06,203.92 1333.51,206.32 1334.96,208.69 1336.41,211.02 1337.87,213.31 1339.32,215.57 1340.77,217.78 1342.22,219.95 1343.67,222.07 1345.12,224.15 1346.58,226.17 1348.03,228.14 1349.48,230.06 1350.93,231.92 1352.38,233.72 1353.83,235.47 1355.29,237.15 1356.74,238.77 1358.19,240.33 1359.64,241.81 1361.09,243.24 1362.55,244.59 1364.00,245.87 1365.45,247.08 1366.90,248.22 1368.35,249.28 1369.80,250.27 1371.26,251.18 1372.71,252.02 1374.16,252.77 1375.61,253.45 1377.06,254.05 1378.51,254.57 1379.97,255.01 1381.42,255.37 1382.87,255.65 1384.32,255.85 1385.77,255.97 1387.23,256.00 1388.68,255.95 1390.13,255.82 1391.58,255.61 1393.03,255.32 1394.48,254.95 1395.94,254.50 1397.39,253.96 1398.84,253.35 1400.29,252.66 1401.74,251.89 1403.19,251.04 1404.65,250.12 1406.10,249.12 1407.55,248.04 1409.00,246.89 1410.45,245.67 1411.90,244.38 1413.36,243.02 1414.81,241.58 1416.26,240.08 1417.71,238.52 1419.16,236.89 1420.62,235.20 1422.07,233.44 1423.52,231.63 1424.97,229.76 1426.42,227.83 1427.87,225.85 1429.33,223.82 1430.78,221.74 1432.23,219.61 1433.68,217.43 1435.13,215.21 1436.58,212.95 1438.04,210.65 1439.49,208.32 1440.94,205.95 1442.39,203.54 1443.84,201.11 1445.30,198.65 1446.75,196.16 1448.20,193.65 1449.65,191.12 1451.10,188.57 1452.55,186.01 1454.01,183.44 1455.46,180.85 1456.91,178.26 1458.36,175.66 1459.81,173.06 1461.26,170.46 1462.72,167.86 1464.17,165.27 1465.62,162.69 1467.07,160.11 1468.52,157.55 1469.97,155.00 1471.43,152.47 1472.88,149.97 1474.33,147.48 1475.78,145.02 1477.23,142.59 1478.69,140.19 1480.14,137.82 1481.59,135.48 1483.04,133.18 1484.49,130.92 1485.94,128.71 1487.40,126.53 1488.85,124.41 1490.30,122.33 1491.75,120.30 1493.20,118.32 1494.65,116.40 1496.11,114.53 1497.56,112.72 1499.01,110.97 1500.46,109.28 1501.91,107.65 1503.37,106.09 1504.82,104.60 1506.27,103.17 1507.72,101.81 1509.17,100.52 1510.62,99.30 1512.08,98.16 1513.53,97.08 1514.98,96.09 1516.43,95.17 1517.88,94.32 1519.33,93.56 1520.79,92.87 1522.24,92.26 1523.69,91.73 1525.14,91.28 1526.59,90.92 1528.04,90.63 1529.50,90.42 1530.95,90.30 1532.40,90.25"/>
<polyline stroke="#e6801e" points="951.70,39.45 953.15,39.50 954.60,39.62 956.06,39.80 957.51,40.05 958.96,40.35 960.41,40.72 961.86,41.15 963.31,41.63 964.77,42.18 966.22,42.79 967.67,43.46 969.12,44.18 970.57,44.97 972.02,45.81 973.48,46.71 974.93,47.66 976.38,48.67 977.83,49.73 979.28,50.84 980.74,52.00 982.19,53.22 983.64,54.48 985.09,55.79 986.54,57.15 987.99,58.55 989.45,59.99 990.90,61.48 992.35,63.01 993.80,64.58 995.25,66.18 996.70,67.82 998.16,69.50 999.61,71.21 1001.06,72.95 1002.51,74.72 1003.96,76.52 1005.41,78.34 1006.87,80.19 1008.32,82.06 1009.77,83.95 1011.22,85.86 1012.67,87.78 1014.13,89.72 1015.58,91.68 1017.03,93.64 1018.48,95.61 1019.93,97.59 1021.38,99.58 1022.84,101.57 1024.29,103.56 1025.74,105.55 1027.19,107.54 1028.64,109.52 1030.09,111.50 1031.55,113.46 1033.00,115.42 1034.45,117.36 1035.90,119.29 1037.35,121.21 1038.81,123.11 1040.26,124.98 1041.71,126.84 1043.16,128.67 1044.61,130.47 1046.06,132.25 1047.52,134.00 1048.97,135.72 1050.42,137.41 1051.87,139.06 1053.32,140.67 1054.77,142.25 1056.23,143.79 1057.68,145.29 1059.13,146.75 1060.58,148.17 1062.03,149.54 1063.48,150.86 1064.94,152.14 1066.39,153.37 1067.84,154.55 1069.29,155.68 1070.74,156.76 1072.20,157.78 1073.65,158.75 1075.10,159.66 1076.55,160.52 1078.00,161.32 1079.45,162.07 1080.91,162.75 1082.36,163.38 1083.81,163.95 1085.26,164.45 1086.71,164.90 1088.16,165.28 1089.62,165.61 1091.07,165.87 1092.52,166.07 1093.97,166.21 1095.42,166.28 1096.88,166.30 1098.33,166.25 1099.78,166.13 1101.23,165.96 1102.68,165.72 1104.13,165.43 1105.59,165.07 1107.04,164.65 1108.49,164.16 1109.94,163.62 1111.39,163.02 1112.84,162.36 1114.30,161.64 1115.75,160.86 1117.20,160.02 1118.65,159.13 1120.10,158.19 1121.55,157.19 1123.01,156.13 1124.46,155.02 1125.91,153.87 1127.36,152.66 1128.81,151.40 1130.27,150.09 1131.72,148.74 1133.17,147.35 1134.62,145.90 1136.07,144.42 1137.52,142.90 1138.98,141.33 1140.43,139.73 1141.88,138.09 1143.33,136.42 1144.78,134.72 1146.23,132.98 1147.69,131.21 1149.14,129.42 1150.59,127.60 1152.04,125.75 1153.49,123.89 1154.95,122.00 1156.40,120.09 1157.85,118.17 1159.30,116.23 1160.75,114.28 1162.20,112.31 1163.66,110.34 1165.11,108.36 1166.56,106.37 1168.01,104.38 1169.46,102.39 1170.91,100.40 1172.37,98.42 1173.82,96.43 1175.27,94.46 1176.72,92.49 1178.17,90.53 1179.62,88.58 1181.08,86.65 1182.53,84.74 1183.98,82.84 1185.43,80.96 1186.88,79.10 1188.34,77.27 1189.79,75.46 1191.24,73.68 1192.69,71.93 1194.14,70.21 1195.59,68.52 1197.05,66.86 1198.50,65.24 1199.95,63.65 1201.40,62.11 1202.85,60.61 1204.30,59.14 1205.76,57.72 1207.21,56.35 1208.66,55.02 1210.11,53.73 1211.56,52.50 1213.02,51.31 1214.47,50.18 1215.92,49.10 1217.37,48.07 1218.82,47.09 1220.27,46.17 1221.73,45.31 1223.18,44.50 1224.63,43.75 1226.08,43.06 1227.53,42.43 1228.98,41.85 1230.44,41.34 1231.89,40.89 1233.34,40.50 1234.79,40.17 1236.24,39.90 1237.69,39.69 1239.15,39.55 1240.60,39.46 1242.05,39.44 1243.50,39.49 1244.95,39.59 1246.41,39.76 1247.86,39.99 1249.31,40.28 1250.76,40.63 1252.21,41.05 1253.66,41.52 1255.12,42.06 1256.57,42.66 1258.02,43.31 1259.47,44.02 1260.92,44.80 1262.37,45.63 1263.83,46.51 1265.28,47.45 1266.73,48.45 1268.18,49.50 1269.63,50.60 1271.09,51.75 1272.54,52.95 1273.99,54.21 1275.44,55.51 1276.89,56.85 1278.34,58.24 1279.80,59.68 1281.25,61.16 1282.70,62.68 1284.15,64.24 1285.60,65.84 1287.05,67.47 1288.51,69.14 1289.96,70.84 1291.41,72.58 1292.86,74.34 1294.31,76.13 1295.76,77.95 1297.22,79.79 1298.67,81.66 1300.12,83.54 1301.57,85.45 1303.02,87.37 1304.48,89.31 1305.93,91.26 1307.38,93.22 1308.83,95.19 1310.28,97.17 1311.73,99.16 1313.19,101.14 1314.64,103.13 1316.09,105.12 1317.54,107.11 1318.99,109.10 1320.44,111.07 1321.90,113.04 1323.35,115.00 1324.80,116.95 1326.25,118.88 1327.70,120.80 1329.16,122.70 1330.61,124.58 1332.06,126.44 1333.51,128.28 1334.96,130.09 1336.41,131.87 1337.87,133.63 1339.32,135.35 1340.77,137.05 1342.22,138.71 1343.67,140.33 1345.12,141.92 1346.58,143.47 1348.03,144.98 1349.48,146.45 1350.93,147.87 1352.38,149.25 1353.83,150.59 1355.29,151.87 1356.74,153.11 1358.19,154.30 1359.64,155.44 1361.09,156.53 1362.55,157.56 1364.00,158.55 1365.45,159.47 1366.90,160.34 1368.35,161.16 1369.80,161.91 1371.26,162.61 1372.71,163.25 1374.16,163.83 1375.61,164.35 1377.06,164.81 1378.51,165.21 1379.97,165.54 1381.42,165.82 1382.87,166.03 1384.32,166.18 1385.77,166.27 1387.23,166.30 1388.68,166.26 1390.13,166.16 1391.58,166.00 1393.03,165.78 1394.48,165.49 1395.94,165.15 1397.39,164.74 1398.84,164.27 1400.29,163.74 1401.74,163.15 1403.19,162.50 1404.65,161.80 1406.10,161.03 1407.55,160.21 1409.00,159.33 1410.45,158.39 1411.90,157.40 1413.36,156.36 1414.81,155.27 1416.26,154.12 1417.71,152.92 1419.16,151.67 1420.62,150.38 1422.07,149.04 1423.52,147.65 1424.97,146.22 1426.42,144.74 1427.87,143.23 1429.33,141.67 1430.78,140.08 1432.23,138.45 1433.68,136.78 1435.13,135.08 1436.58,133.35 1438.04,131.59 1439.49,129.80 1440.94,127.99 1442.39,126.15 1443.84,124.29 1445.30,122.40 1446.75,120.50 1448.20,118.58 1449.65,116.64 1451.10,114.69 1452.55,112.73 1454.01,110.76 1455.46,108.78 1456.91,106.80 1458.36,104.81 1459.81,102.82 1461.26,100.83 1462.72,98.84 1464.17,96.86 1465.62,94.88 1467.07,92.91 1468.52,90.95 1469.97,89.00 1471.43,87.06 1472.88,85.14 1474.33,83.24 1475.78,81.36 1477.23,79.50 1478.69,77.66 1480.14,75.85 1481.59,74.06 1483.04,72.30 1484.49,70.57 1485.94,68.87 1487.40,67.21 1488.85,65.58 1490.30,63.99 1491.75,62.44 1493.20,60.92 1494.65,59.45 1496.11,58.02 1497.56,56.64 1499.01,55.30 1500.46,54.00 1501.91,52.76 1503.37,51.56 1504.82,50.42 1506.27,49.33 1507.72,48.29 1509.17,47.30 1510.62,46.37 1512.08,45.49 1513.53,44.67 1514.98,43.91 1516.43,43.20 1517.88,42.56 1519.33,41.97 1520.79,41.44 1522.24,40.98 1523.69,40.57 1525.14,40.23 1526.59,39.95 1528.04,39.73 1529.50,39.57 1530.95,39.48 1532.40,39.44"/>
<polyline stroke="#d7141e" points="951.70,21.60 953.15,21.63 954.60,21.70 956.06,21.80 957.51,21.93 958.96,22.09 960.41,22.29 961.86,22.52 963.31,22.79 964.77,23.08 966.22,23.41 967.67,23.77 969.12,24.17 970.57,24.59 972.02,25.05 973.48,25.53 974.93,26.05 976.38,26.59 977.83,27.17 979.28,27.77 980.74,28.40 982.19,29.05 983.64,29.74 985.09,30.45 986.54,31.18 987.99,31.94 989.45,32.72 990.90,33.53 992.35,34.35 993.80,35.20 995.25,36.07 996.70,36.96 998.16,37.87 999.61,38.79 1001.06,39.73 1002.51,40.69 1003.96,41.66 1005.41,42.65 1006.87,43.65 1008.32,44.66 1009.77,45.69 1011.22,46.72 1012.67,47.76 1014.13,48.81 1015.58,49.87 1017.03,50.93 1018.48,52.00 1019.93,53.07 1021.38,54.15 1022.84,55.22 1024.29,56.30 1025.74,57.38 1027.19,58.45 1028.64,59.53 1030.09,60.59 1031.55,61.66 1033.00,62.72 1034.45,63.77 1035.90,64.82 1037.35,65.85 1038.81,66.88 1040.26,67.89 1041.71,68.90 1043.16,69.89 1044.61,70.86 1046.06,71.83 1047.52,72.77 1048.97,73.70 1050.42,74.62 1051.87,75.51 1053.32,76.39 1054.77,77.24 1056.23,78.07 1057.68,78.89 1059.13,79.68 1060.58,80.44 1062.03,81.18 1063.48,81.90 1064.94,82.59 1066.39,83.26 1067.84,83.90 1069.29,84.51 1070.74,85.09 1072.20,85.64 1073.65,86.17 1075.10,86.66 1076.55,87.13 1078.00,87.56 1079.45,87.96 1080.91,88.33 1082.36,88.67 1083.81,88.98 1085.26,89.25 1086.71,89.50 1088.16,89.71 1089.62,89.88 1091.07,90.02 1092.52,90.13 1093.97,90.20 1095.42,90.25 1096.88,90.25 1098.33,90.23 1099.78,90.17 1101.23,90.07 1102.68,89.94 1104.13,89.78 1105.59,89.59 1107.04,89.36 1108.49,89.10 1109.94,88.80 1111.39,88.48 1112.84,88.12 1114.30,87.73 1115.75,87.31 1117.20,86.86 1118.65,86.38 1120.10,85.86 1121.55,85.32 1123.01,84.75 1124.46,84.15 1125.91,83.53 1127.36,82.87 1128.81,82.19 1130.27,81.48 1131.72,80.75 1133.17,80.00 1134.62,79.22 1136.07,78.41 1137.52,77.59 1138.98,76.74 1140.43,75.88 1141.88,74.99 1143.33,74.08 1144.78,73.16 1146.23,72.22 1147.69,71.27 1149.14,70.29 1150.59,69.31 1152.04,68.31 1153.49,67.30 1154.95,66.28 1156.40,65.25 1157.85,64.20 1159.30,63.16 1160.75,62.10 1162.20,61.04 1163.66,59.97 1165.11,58.90 1166.56,57.82 1168.01,56.75 1169.46,55.67 1170.91,54.59 1172.37,53.52 1173.82,52.44 1175.27,51.37 1176.72,50.31 1178.17,49.25 1179.62,48.20 1181.08,47.15 1182.53,46.11 1183.98,45.09 1185.43,44.07 1186.88,43.06 1188.34,42.07 1189.79,41.09 1191.24,40.13 1192.69,39.18 1194.14,38.25 1195.59,37.33 1197.05,36.44 1198.50,35.56 1199.95,34.70 1201.40,33.87 1202.85,33.05 1204.30,32.26 1205.76,31.49 1207.21,30.75 1208.66,30.03 1210.11,29.33 1211.56,28.67 1213.02,28.03 1214.47,27.41 1215.92,26.83 1217.37,26.27 1218.82,25.74 1220.27,25.24 1221.73,24.78 1223.18,24.34 1224.63,23.93 1226.08,23.56 1227.53,23.22 1228.98,22.90 1230.44,22.63 1231.89,22.38 1233.34,22.17 1234.79,21.99 1236.24,21.85 1237.69,21.73 1239.15,21.66 1240.60,21.61 1242.05,21.60 1243.50,21.62 1244.95,21.68 1246.41,21.77 1247.86,21.90 1249.31,22.05 1250.76,22.24 1252.21,22.47 1253.66,22.73 1255.12,23.02 1256.57,23.34 1258.02,23.69 1259.47,24.08 1260.92,24.50 1262.37,24.95 1263.83,25.42 1265.28,25.93 1266.73,26.47 1268.18,27.04 1269.63,27.64 1271.09,28.26 1272.54,28.91 1273.99,29.59 1275.44,30.29 1276.89,31.02 1278.34,31.78 1279.80,32.55 1281.25,33.35 1282.70,34.18 1284.15,35.02 1285.60,35.88 1287.05,36.77 1288.51,37.67 1289.96,38.59 1291.41,39.53 1292.86,40.49 1294.31,41.46 1295.76,42.44 1297.22,43.44 1298.67,44.45 1300.12,45.47 1301.57,46.50 1303.02,47.54 1304.48,48.59 1305.93,49.64 1307.38,50.70 1308.83,51.77 1310.28,52.84 1311.73,53.92 1313.19,54.99 1314.64,56.07 1316.09,57.15 1317.54,58.22 1318.99,59.30 1320.44,60.37 1321.90,61.43 1323.35,62.49 1324.80,63.55 1326.25,64.59 1327.70,65.63 1329.16,66.66 1330.61,67.68 1332.06,68.68 1333.51,69.68 1334.96,70.66 1336.41,71.62 1337.87,72.57 1339.32,73.51 1340.77,74.42 1342.22,75.32 1343.67,76.20 1345.12,77.06 1346.58,77.90 1348.03,78.72 1349.48,79.51 1350.93,80.28 1352.38,81.03 1353.83,81.75 1355.29,82.45 1356.74,83.12 1358.19,83.76 1359.64,84.38 1361.09,84.97 1362.55,85.53 1364.00,86.06 1365.45,86.56 1366.90,87.03 1368.35,87.47 1369.80,87.88 1371.26,88.26 1372.71,88.60 1374.16,88.92 1375.61,89.20 1377.06,89.45 1378.51,89.66 1379.97,89.85 1381.42,89.99 1382.87,90.11 1384.32,90.19 1385.77,90.24 1387.23,90.25 1388.68,90.23 1390.13,90.18 1391.58,90.09 1393.03,89.97 1394.48,89.82 1395.94,89.63 1397.39,89.41 1398.84,89.16 1400.29,88.87 1401.74,88.55 1403.19,88.20 1404.65,87.82 1406.10,87.40 1407.55,86.96 1409.00,86.48 1410.45,85.98 1411.90,85.44 1413.36,84.88 1414.81,84.28 1416.26,83.66 1417.71,83.01 1419.16,82.34 1420.62,81.64 1422.07,80.91 1423.52,80.16 1424.97,79.39 1426.42,78.59 1427.87,77.77 1429.33,76.93 1430.78,76.06 1432.23,75.18 1433.68,74.28 1435.13,73.36 1436.58,72.42 1438.04,71.47 1439.49,70.50 1440.94,69.52 1442.39,68.53 1443.84,67.52 1445.30,66.50 1446.75,65.47 1448.20,64.43 1449.65,63.38 1451.10,62.33 1452.55,61.26 1454.01,60.20 1455.46,59.13 1456.91,58.05 1458.36,56.98 1459.81,55.90 1461.26,54.82 1462.72,53.75 1464.17,52.67 1465.62,51.60 1467.07,50.54 1468.52,49.47 1469.97,48.42 1471.43,47.37 1472.88,46.33 1474.33,45.30 1475.78,44.29 1477.23,43.28 1478.69,42.28 1480.14,41.30 1481.59,40.33 1483.04,39.38 1484.49,38.45 1485.94,37.53 1487.40,36.63 1488.85,35.75 1490.30,34.88 1491.75,34.04 1493.20,33.23 1494.65,32.43 1496.11,31.65 1497.56,30.91 1499.01,30.18 1500.46,29.48 1501.91,28.81 1503.37,28.16 1504.82,27.54 1506.27,26.95 1507.72,26.39 1509.17,25.85 1510.62,25.35 1512.08,24.87 1513.53,24.43 1514.98,24.02 1516.43,23.64 1517.88,23.29 1519.33,22.97 1520.79,22.68 1522.24,22.43 1523.69,22.21 1525.14,22.03 1526.59,21.87 1528.04,21.75 1529.50,21.67 1530.95,21.62 1532.40,21.60"/>
</g>
<g font-family='"Liberation Sans", Arial, Helvetica, sans-serif' font-size="25.8" fill="#000">
<text transform="translate(1003.43 520.40) scale(0.98 1)" font-family='"Liberation Sans", Arial, Helvetica, sans-serif' font-size="25.8" text-anchor="middle" fill="#000">-2</text>
<text transform="translate(1095.95 520.40) scale(0.98 1)" font-family='"Liberation Sans", Arial, Helvetica, sans-serif' font-size="25.8" text-anchor="middle" fill="#000">0</text>
<text transform="translate(1188.47 520.40) scale(0.98 1)" font-family='"Liberation Sans", Arial, Helvetica, sans-serif' font-size="25.8" text-anchor="middle" fill="#000">2</text>
<text transform="translate(1280.99 520.40) scale(0.98 1)" font-family='"Liberation Sans", Arial, Helvetica, sans-serif' font-size="25.8" text-anchor="middle" fill="#000">4</text>
<text transform="translate(1373.51 520.40) scale(0.98 1)" font-family='"Liberation Sans", Arial, Helvetica, sans-serif' font-size="25.8" text-anchor="middle" fill="#000">6</text>
<text transform="translate(1466.03 520.40) scale(0.98 1)" font-family='"Liberation Sans", Arial, Helvetica, sans-serif' font-size="25.8" text-anchor="middle" fill="#000">8</text>
<text transform="translate(940.50 496.60) scale(0.98 1)" font-family='"Liberation Sans", Arial, Helvetica, sans-serif' font-size="25.8" text-anchor="end" fill="#000">0.0</text>
<text transform="translate(940.50 402.84) scale(0.98 1)" font-family='"Liberation Sans", Arial, Helvetica, sans-serif' font-size="25.8" text-anchor="end" fill="#000">0.2</text>
<text transform="translate(940.50 309.08) scale(0.98 1)" font-family='"Liberation Sans", Arial, Helvetica, sans-serif' font-size="25.8" text-anchor="end" fill="#000">0.4</text>
<text transform="translate(940.50 215.32) scale(0.98 1)" font-family='"Liberation Sans", Arial, Helvetica, sans-serif' font-size="25.8" text-anchor="end" fill="#000">0.6</text>
<text transform="translate(940.50 121.56) scale(0.98 1)" font-family='"Liberation Sans", Arial, Helvetica, sans-serif' font-size="25.8" text-anchor="end" fill="#000">0.8</text>
<text transform="translate(940.50 27.80) scale(0.98 1)" font-family='"Liberation Sans", Arial, Helvetica, sans-serif' font-size="25.8" text-anchor="end" fill="#000">1.0</text>
</g>
<text transform="translate(1227.50 546.10) scale(1.04 1) skewX(-8)" font-family='"Liberation Serif", "Times New Roman", Times, serif' font-size="37" font-style="italic" fill="#000">&#981;</text>
<text transform="translate(1245.50 563.00) scale(1.04 1)" font-family='"Liberation Serif", "Times New Roman", Times, serif' font-size="24" font-style="italic" fill="#000">i</text>
<g transform="translate(883.5 282) rotate(-90)"><text x="0" y="0" font-family='"Liberation Serif", "Times New Roman", Times, serif' font-size="36">I/I</text><text x="35" y="15" font-family='"Liberation Serif", "Times New Roman", Times, serif' font-size="25">0</text></g>
<text transform="translate(959.00 63.00) scale(1.04 1)" font-family='"Liberation Serif", "Times New Roman", Times, serif' font-size="40" fill="#000">(b)</text>
<rect x="1532.6" y="11.5" width="113.40000000000009" height="213.5" fill="#fff" stroke="#000" stroke-width="1.3"/>
<line x1="1532.1" x2="1532.1" y1="17.6" y2="225.0" stroke="#000" stroke-width="2.2"/>
<line x1="1541" x2="1591" y1="35.1" y2="35.1" stroke="#d7141e" stroke-width="2.8" stroke-linecap="round" stroke-dasharray="6.5 5.75 0.01 5.75"/>
<text transform="translate(1603.30 43.10) scale(0.98 1)" font-family='"Liberation Sans", Arial, Helvetica, sans-serif' font-size="24.3" fill="#000">1st</text>
<line x1="1541" x2="1591" y1="64.6" y2="64.6" stroke="#e6801e" stroke-width="2.8" stroke-linecap="round" stroke-dasharray="6.5 5.75 0.01 5.75"/>
<text transform="translate(1603.30 72.60) scale(0.98 1)" font-family='"Liberation Sans", Arial, Helvetica, sans-serif' font-size="24.3" fill="#000">2nd</text>
<line x1="1541" x2="1591" y1="94.1" y2="94.1" stroke="#f8f828" stroke-width="2.8" stroke-linecap="round" stroke-dasharray="6.5 5.75 0.01 5.75"/>
<text transform="translate(1603.30 102.10) scale(0.98 1)" font-family='"Liberation Sans", Arial, Helvetica, sans-serif' font-size="24.3" fill="#000">3rd</text>
<line x1="1541" x2="1591" y1="123.5" y2="123.5" stroke="#1ee11e" stroke-width="2.8" stroke-linecap="round" stroke-dasharray="6.5 5.75 0.01 5.75"/>
<text transform="translate(1603.30 131.50) scale(0.98 1)" font-family='"Liberation Sans", Arial, Helvetica, sans-serif' font-size="24.3" fill="#000">4th</text>
<line x1="1541" x2="1591" y1="153.0" y2="153.0" stroke="#146e6e" stroke-width="2.8" stroke-linecap="round" stroke-dasharray="6.5 5.75 0.01 5.75"/>
<text transform="translate(1603.30 161.00) scale(0.98 1)" font-family='"Liberation Sans", Arial, Helvetica, sans-serif' font-size="24.3" fill="#000">5th</text>
<line x1="1541" x2="1591" y1="182.4" y2="182.4" stroke="#0c0cc0" stroke-width="2.8" stroke-linecap="round" stroke-dasharray="6.5 5.75 0.01 5.75"/>
<text transform="translate(1603.30 190.40) scale(0.98 1)" font-family='"Liberation Sans", Arial, Helvetica, sans-serif' font-size="24.3" fill="#000">6th</text>
<line x1="1541" x2="1591" y1="211.9" y2="211.9" stroke="#000000" stroke-width="2.8" stroke-linecap="round" stroke-dasharray="6.5 5.75 0.01 5.75"/>
<text transform="translate(1603.30 219.90) scale(0.98 1)" font-family='"Liberation Sans", Arial, Helvetica, sans-serif' font-size="24.3" fill="#000">7th</text>
</svg>
</body></html>
